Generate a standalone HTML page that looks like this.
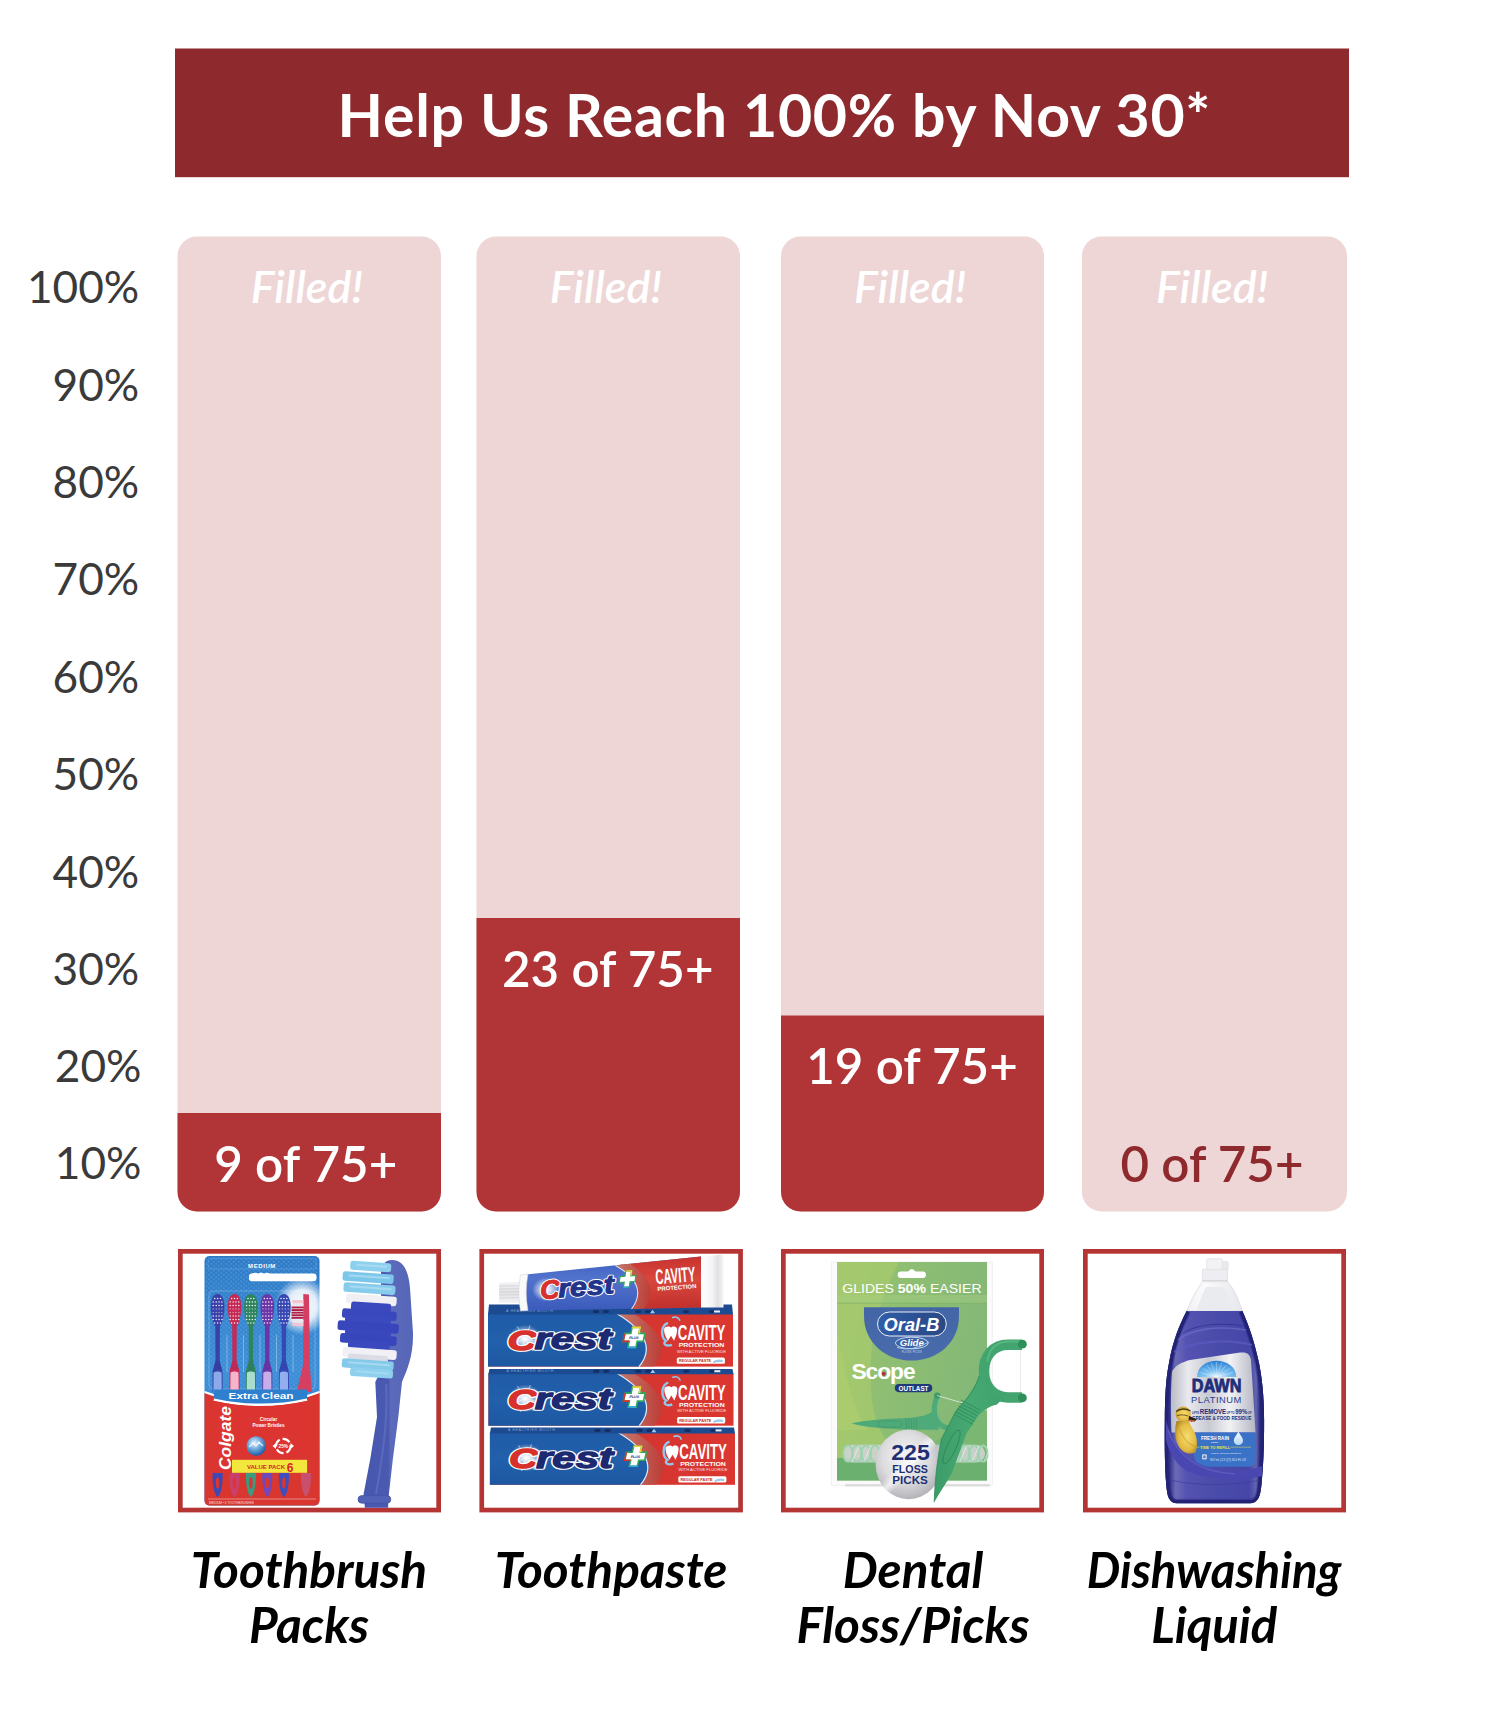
<!DOCTYPE html>
<html lang="en">
<head>
<meta charset="utf-8">
<title>Help Us Reach 100% by Nov 30*</title>
<style>
html,body{margin:0;padding:0;background:#fff;}
body{width:1492px;height:1736px;overflow:hidden;}
svg{display:block;font-family:"Lato","Liberation Sans",sans-serif;}
</style>
</head>
<body>
<svg width="1492" height="1736" viewBox="0 0 1492 1736">
<defs>
<clipPath id="c0"><rect x="182.7" y="1253.7" width="253.6" height="253.99999999999997"/></clipPath>
<clipPath id="c1"><rect x="484.09999999999997" y="1253.7" width="254.1" height="253.99999999999997"/></clipPath>
<clipPath id="c2"><rect x="785.7" y="1253.7" width="253.6" height="253.99999999999997"/></clipPath>
<clipPath id="c3"><rect x="1087.7" y="1253.7" width="253.6" height="253.99999999999997"/></clipPath>
<linearGradient id="pkBlue" x1="0" y1="0" x2="0" y2="1">
<stop offset="0" stop-color="#2C78C4"/><stop offset="0.45" stop-color="#3B8ED6"/><stop offset="1" stop-color="#2E7ACB"/></linearGradient>
<radialGradient id="glow1" cx="0.5" cy="0.5" r="0.5"><stop offset="0" stop-color="#fff" stop-opacity="1"/><stop offset="0.55" stop-color="#fff" stop-opacity="0.85"/><stop offset="1" stop-color="#fff" stop-opacity="0"/></radialGradient>
<radialGradient id="sph1" cx="0.4" cy="0.35" r="0.65"><stop offset="0" stop-color="#E8F4FF"/><stop offset="0.5" stop-color="#6FA8DC"/><stop offset="1" stop-color="#1F5FA8"/></radialGradient>
<linearGradient id="hdl1" x1="0" y1="0" x2="1" y2="0"><stop offset="0" stop-color="#4756AE"/><stop offset="0.5" stop-color="#4B5AB1"/><stop offset="0.55" stop-color="#5B6ABB"/><stop offset="1" stop-color="#5666B8"/></linearGradient>
<pattern id="hex1" width="5" height="4.4" patternUnits="userSpaceOnUse"><circle cx="1.25" cy="1.1" r="1.1" fill="#5A9FDF" fill-opacity="0.55"/><circle cx="3.75" cy="3.3" r="1.1" fill="#5A9FDF" fill-opacity="0.55"/></pattern>
<linearGradient id="cbBlue" x1="0" y1="0" x2="0" y2="1"><stop offset="0" stop-color="#1F5BA6"/><stop offset="0.5" stop-color="#2260AB"/><stop offset="1" stop-color="#1D58A2"/></linearGradient>
<linearGradient id="cbRed" x1="0" y1="0" x2="1" y2="0"><stop offset="0" stop-color="#C9342F"/><stop offset="1" stop-color="#DC3630"/></linearGradient>
<linearGradient id="cbBrown" x1="0" y1="0" x2="1" y2="0"><stop offset="0" stop-color="#C48A7C"/><stop offset="1" stop-color="#B5403A"/></linearGradient>
<radialGradient id="spk" cx="0.5" cy="0.5" r="0.5"><stop offset="0" stop-color="#fff"/><stop offset="0.35" stop-color="#fff" stop-opacity="0.75"/><stop offset="1" stop-color="#fff" stop-opacity="0"/></radialGradient>
<linearGradient id="tubeBlue" x1="0" y1="0" x2="0" y2="1"><stop offset="0" stop-color="#3A5DBE"/><stop offset="0.4" stop-color="#5273CC"/><stop offset="1" stop-color="#3B5BBC"/></linearGradient>
<linearGradient id="tubeRed" x1="0" y1="0" x2="0" y2="1"><stop offset="0" stop-color="#C8322E"/><stop offset="0.45" stop-color="#D8463E"/><stop offset="1" stop-color="#C0302C"/></linearGradient>
<linearGradient id="capG" x1="0" y1="0" x2="0" y2="1"><stop offset="0" stop-color="#F4F4F6"/><stop offset="0.5" stop-color="#E2E2E6"/><stop offset="1" stop-color="#F2F2F4"/></linearGradient>
<linearGradient id="crimpG" x1="0" y1="0" x2="1" y2="0"><stop offset="0" stop-color="#FFFFFF"/><stop offset="0.5" stop-color="#F4F4F6"/><stop offset="0.75" stop-color="#E0E0E4"/><stop offset="1" stop-color="#F6F6F8"/></linearGradient>
<linearGradient id="flG" x1="0" y1="0" x2="1" y2="0.3"><stop offset="0" stop-color="#9CC56F"/><stop offset="0.45" stop-color="#8EBE72"/><stop offset="1" stop-color="#84B877"/></linearGradient>
<linearGradient id="obBlue" x1="0" y1="0" x2="0" y2="1"><stop offset="0" stop-color="#4265A6"/><stop offset="1" stop-color="#4A6CAC"/></linearGradient>
<linearGradient id="obOval" x1="0" y1="0" x2="1" y2="0"><stop offset="0" stop-color="#2F5EA8"/><stop offset="0.6" stop-color="#2B4F92"/><stop offset="1" stop-color="#2A4A85"/></linearGradient>
<radialGradient id="silv" cx="0.45" cy="0.4" r="0.6"><stop offset="0" stop-color="#F6F6F7"/><stop offset="0.6" stop-color="#DCDCDF"/><stop offset="1" stop-color="#B4B4B9"/></radialGradient>
<linearGradient id="silvS" x1="0" y1="0" x2="1" y2="1"><stop offset="0" stop-color="#fff" stop-opacity="0"/><stop offset="0.42" stop-color="#fff" stop-opacity="0"/><stop offset="0.5" stop-color="#fff" stop-opacity="0.7"/><stop offset="0.58" stop-color="#fff" stop-opacity="0"/><stop offset="1" stop-color="#fff" stop-opacity="0"/></linearGradient>
<linearGradient id="pickG" x1="0" y1="0" x2="1" y2="0"><stop offset="0" stop-color="#3C9C69"/><stop offset="0.5" stop-color="#46A873"/><stop offset="1" stop-color="#3FA16B"/></linearGradient>
<linearGradient id="dwBody" x1="0" y1="0" x2="1" y2="0"><stop offset="0" stop-color="#1A1C5C"/><stop offset="0.05" stop-color="#34338C"/><stop offset="0.11" stop-color="#6C6AB6"/><stop offset="0.22" stop-color="#5552B2"/><stop offset="0.5" stop-color="#4A4CAA"/><stop offset="0.85" stop-color="#4646A8"/><stop offset="0.92" stop-color="#6464AE"/><stop offset="0.96" stop-color="#2A2C80"/><stop offset="1" stop-color="#1A1C5C"/></linearGradient>
<linearGradient id="dwClear" x1="0" y1="0" x2="1" y2="0"><stop offset="0" stop-color="#EEEFF3"/><stop offset="0.3" stop-color="#FBFBFC"/><stop offset="0.6" stop-color="#F3F3F5"/><stop offset="1" stop-color="#E6E7EC"/></linearGradient>
<linearGradient id="dwSilver" x1="0" y1="0" x2="1" y2="0"><stop offset="0" stop-color="#B9BBC6"/><stop offset="0.2" stop-color="#E9EAEE"/><stop offset="0.45" stop-color="#C8CAD2"/><stop offset="0.7" stop-color="#F2F2F5"/><stop offset="1" stop-color="#B4B6C2"/></linearGradient>
<radialGradient id="dwSun" cx="0.5" cy="1" r="1"><stop offset="0" stop-color="#E6F4FF"/><stop offset="0.35" stop-color="#7CC2F2"/><stop offset="1" stop-color="#2A7FD4"/></radialGradient>
<radialGradient id="duck" cx="0.55" cy="0.5" r="0.65"><stop offset="0" stop-color="#F6DC70"/><stop offset="0.6" stop-color="#E4BC42"/><stop offset="1" stop-color="#A57C22"/></radialGradient>
<linearGradient id="drop" x1="0" y1="0" x2="0" y2="1"><stop offset="0" stop-color="#F4FAFF"/><stop offset="1" stop-color="#B5D8F4"/></linearGradient>
<clipPath id="dwClip"><path d="M1186.6,1311 L1242.4,1311 C1249,1326 1254,1340 1259,1363 C1262,1378 1264,1395 1264.1,1420 C1264.2,1450 1263,1470 1261.5,1484 C1260.5,1496 1258,1503.3 1250,1503.3 L1177,1503.3 C1169,1503.3 1167,1496 1166.2,1484 C1165,1470 1164.5,1450 1164.8,1420 C1165,1395 1166,1378 1169,1363 C1173,1340 1179,1326 1186.6,1311 Z"/></clipPath>
</defs>
<rect x="175" y="48.5" width="1174" height="128.7" fill="#8E2A2D"/>
<text x="337.60" y="136.93" font-size="59" font-weight="700" fill="#fff" letter-spacing="0.75" textLength="873.6" lengthAdjust="spacingAndGlyphs">Help Us Reach 100% by Nov 30*</text>
<text x="139.30" y="303.40" font-size="44.2" fill="#3A3A3A" text-anchor="end" textLength="112.31" lengthAdjust="spacingAndGlyphs">100%</text>
<text x="139.30" y="400.76" font-size="44.2" fill="#3A3A3A" text-anchor="end" textLength="86.69" lengthAdjust="spacingAndGlyphs">90%</text>
<text x="139.30" y="498.12" font-size="44.2" fill="#3A3A3A" text-anchor="end" textLength="86.69" lengthAdjust="spacingAndGlyphs">80%</text>
<text x="139.30" y="595.48" font-size="44.2" fill="#3A3A3A" text-anchor="end" textLength="86.69" lengthAdjust="spacingAndGlyphs">70%</text>
<text x="139.30" y="692.84" font-size="44.2" fill="#3A3A3A" text-anchor="end" textLength="86.69" lengthAdjust="spacingAndGlyphs">60%</text>
<text x="139.30" y="790.20" font-size="44.2" fill="#3A3A3A" text-anchor="end" textLength="86.69" lengthAdjust="spacingAndGlyphs">50%</text>
<text x="139.30" y="887.56" font-size="44.2" fill="#3A3A3A" text-anchor="end" textLength="86.69" lengthAdjust="spacingAndGlyphs">40%</text>
<text x="139.30" y="984.92" font-size="44.2" fill="#3A3A3A" text-anchor="end" textLength="86.69" lengthAdjust="spacingAndGlyphs">30%</text>
<text x="141.50" y="1082.28" font-size="44.2" fill="#3A3A3A" text-anchor="end" textLength="86.69" lengthAdjust="spacingAndGlyphs">20%</text>
<text x="141.50" y="1179.14" font-size="44.2" fill="#3A3A3A" text-anchor="end" textLength="86.69" lengthAdjust="spacingAndGlyphs">10%</text>
<rect x="177.5" y="236.5" width="263.5" height="975.0" rx="19.5" fill="#EED6D7"/>
<path d="M177.5,1113 H441.0 V1192.0 A19.5,19.5 0 0 1 421.5,1211.5 H197.0 A19.5,19.5 0 0 1 177.5,1192.0 Z" fill="#B13436"/>
<rect x="476.5" y="236.5" width="263.5" height="975.0" rx="19.5" fill="#EED6D7"/>
<path d="M476.5,918 H740.0 V1192.0 A19.5,19.5 0 0 1 720.5,1211.5 H496.0 A19.5,19.5 0 0 1 476.5,1192.0 Z" fill="#B13436"/>
<rect x="781" y="236.5" width="263" height="975.0" rx="19.5" fill="#EED6D7"/>
<path d="M781,1015.5 H1044 V1192.0 A19.5,19.5 0 0 1 1024.5,1211.5 H800.5 A19.5,19.5 0 0 1 781,1192.0 Z" fill="#B13436"/>
<rect x="1082" y="236.5" width="265" height="975.0" rx="19.5" fill="#EED6D7"/>
<text x="306.95" y="302.84" font-size="44.8" font-weight="600" font-style="italic" fill="#fff" text-anchor="middle" textLength="112.16" lengthAdjust="spacingAndGlyphs">Filled!</text>
<text x="605.95" y="302.84" font-size="44.8" font-weight="600" font-style="italic" fill="#fff" text-anchor="middle" textLength="112.16" lengthAdjust="spacingAndGlyphs">Filled!</text>
<text x="910.20" y="302.84" font-size="44.8" font-weight="600" font-style="italic" fill="#fff" text-anchor="middle" textLength="112.16" lengthAdjust="spacingAndGlyphs">Filled!</text>
<text x="1212.20" y="302.84" font-size="44.8" font-weight="600" font-style="italic" fill="#fff" text-anchor="middle" textLength="112.16" lengthAdjust="spacingAndGlyphs">Filled!</text>
<text x="305.75" y="1182.10" font-size="49.3" font-weight="600" fill="#fff" text-anchor="middle" textLength="183.02" lengthAdjust="spacingAndGlyphs">9 of 75+</text>
<text x="607.75" y="986.90" font-size="49.3" font-weight="600" fill="#fff" text-anchor="middle" textLength="211.61" lengthAdjust="spacingAndGlyphs">23 of 75+</text>
<text x="912.00" y="1083.70" font-size="49.3" font-weight="600" fill="#fff" text-anchor="middle" textLength="211.61" lengthAdjust="spacingAndGlyphs">19 of 75+</text>
<text x="1212.00" y="1181.90" font-size="49.3" font-weight="600" fill="#8E2A2D" text-anchor="middle" textLength="183.02" lengthAdjust="spacingAndGlyphs">0 of 75+</text>
<text x="309.00" y="1588.06" font-size="49.5" font-weight="700" font-style="italic" fill="#000" text-anchor="middle" textLength="236.33" lengthAdjust="spacingAndGlyphs">Toothbrush</text>
<text x="309.00" y="1643.06" font-size="49.5" font-weight="700" font-style="italic" fill="#000" text-anchor="middle" textLength="120.17" lengthAdjust="spacingAndGlyphs">Packs</text>
<text x="611.00" y="1588.06" font-size="49.5" font-weight="700" font-style="italic" fill="#000" text-anchor="middle" textLength="232.75" lengthAdjust="spacingAndGlyphs">Toothpaste</text>
<text x="913.00" y="1588.06" font-size="49.5" font-weight="700" font-style="italic" fill="#000" text-anchor="middle" textLength="140.73" lengthAdjust="spacingAndGlyphs">Dental</text>
<text x="913.00" y="1643.06" font-size="49.5" font-weight="700" font-style="italic" fill="#000" text-anchor="middle" textLength="232.98" lengthAdjust="spacingAndGlyphs">Floss/Picks</text>
<text x="1214.10" y="1588.06" font-size="49.5" font-weight="700" font-style="italic" fill="#000" text-anchor="middle" textLength="254.6" lengthAdjust="spacingAndGlyphs">Dishwashing</text>
<text x="1214.30" y="1643.06" font-size="49.5" font-weight="700" font-style="italic" fill="#000" text-anchor="middle" textLength="126.0" lengthAdjust="spacingAndGlyphs">Liquid</text>
<rect x="180.35" y="1251.35" width="258.3" height="258.7" fill="#fff" stroke="#B43533" stroke-width="4.7"/>
<rect x="481.75" y="1251.35" width="258.8" height="258.7" fill="#fff" stroke="#B43533" stroke-width="4.7"/>
<rect x="783.35" y="1251.35" width="258.3" height="258.7" fill="#fff" stroke="#B43533" stroke-width="4.7"/>
<rect x="1085.35" y="1251.35" width="258.3" height="258.7" fill="#fff" stroke="#B43533" stroke-width="4.7"/>
<g clip-path="url(#c0)">
<rect x="204.5" y="1256" width="115" height="249.5" rx="5" fill="url(#pkBlue)"/>
<rect x="206" y="1257" width="112" height="134" rx="4" fill="url(#hex1)"/>
<rect x="208" y="1258.5" width="108" height="10.5" rx="3" fill="none" stroke="#8CC0EC" stroke-opacity="0.5" stroke-width="0.6"/>
<text x="262" y="1267.6" font-size="6" font-weight="700" fill="#fff" text-anchor="middle" letter-spacing="0.6" font-family="Liberation Sans, Arial, sans-serif">MEDIUM</text>
<rect x="249" y="1273.6" width="67.5" height="7.6" rx="3" fill="#fff"/>
<path d="M252,1274 q3,-2.5 6,0 q3,-3 6,0 q3,-2.5 6,0" fill="#fff"/>
<rect x="209" y="1291" width="106" height="98" rx="4" fill="none" stroke="#A9D2F2" stroke-opacity="0.55" stroke-width="0.7"/>
<ellipse cx="302" cy="1306" rx="27" ry="29" fill="url(#glow1)"/>
<path d="M217.6,1294 C222.79999999999998,1294 224.6,1301 224.4,1308 C224.1,1317 221.4,1327 217.6,1328.5 C213.79999999999998,1327 211.1,1317 210.79999999999998,1308 C210.6,1301 212.4,1294 217.6,1294 Z" fill="#3940A8"/>
<circle cx="214.7" cy="1298.5" r="0.75" fill="#fff" fill-opacity="0.95"/>
<circle cx="217.6" cy="1298.5" r="0.75" fill="#fff" fill-opacity="0.95"/>
<circle cx="220.5" cy="1298.5" r="0.75" fill="#fff" fill-opacity="0.95"/>
<circle cx="213.2" cy="1302" r="0.75" fill="#fff" fill-opacity="0.95"/>
<circle cx="216.2" cy="1302" r="0.75" fill="#fff" fill-opacity="0.95"/>
<circle cx="219.0" cy="1302" r="0.75" fill="#fff" fill-opacity="0.95"/>
<circle cx="221.9" cy="1302" r="0.75" fill="#fff" fill-opacity="0.95"/>
<circle cx="213.2" cy="1305.5" r="0.75" fill="#fff" fill-opacity="0.95"/>
<circle cx="216.2" cy="1305.5" r="0.75" fill="#fff" fill-opacity="0.95"/>
<circle cx="219.0" cy="1305.5" r="0.75" fill="#fff" fill-opacity="0.95"/>
<circle cx="221.9" cy="1305.5" r="0.75" fill="#fff" fill-opacity="0.95"/>
<circle cx="213.2" cy="1309" r="0.75" fill="#fff" fill-opacity="0.5"/>
<circle cx="216.2" cy="1309" r="0.75" fill="#fff" fill-opacity="0.5"/>
<circle cx="219.0" cy="1309" r="0.75" fill="#fff" fill-opacity="0.5"/>
<circle cx="221.9" cy="1309" r="0.75" fill="#fff" fill-opacity="0.5"/>
<circle cx="213.2" cy="1312.5" r="0.75" fill="#fff" fill-opacity="0.5"/>
<circle cx="216.2" cy="1312.5" r="0.75" fill="#fff" fill-opacity="0.5"/>
<circle cx="219.0" cy="1312.5" r="0.75" fill="#fff" fill-opacity="0.5"/>
<circle cx="221.9" cy="1312.5" r="0.75" fill="#fff" fill-opacity="0.5"/>
<circle cx="213.2" cy="1316" r="0.75" fill="#fff" fill-opacity="0.95"/>
<circle cx="216.2" cy="1316" r="0.75" fill="#fff" fill-opacity="0.95"/>
<circle cx="219.0" cy="1316" r="0.75" fill="#fff" fill-opacity="0.95"/>
<circle cx="221.9" cy="1316" r="0.75" fill="#fff" fill-opacity="0.95"/>
<circle cx="213.2" cy="1319.5" r="0.75" fill="#fff" fill-opacity="0.95"/>
<circle cx="216.2" cy="1319.5" r="0.75" fill="#fff" fill-opacity="0.95"/>
<circle cx="219.0" cy="1319.5" r="0.75" fill="#fff" fill-opacity="0.95"/>
<circle cx="221.9" cy="1319.5" r="0.75" fill="#fff" fill-opacity="0.95"/>
<circle cx="214.7" cy="1323" r="0.75" fill="#fff" fill-opacity="0.95"/>
<circle cx="217.6" cy="1323" r="0.75" fill="#fff" fill-opacity="0.95"/>
<circle cx="220.5" cy="1323" r="0.75" fill="#fff" fill-opacity="0.95"/>
<path d="M215.29999999999998,1327 L215.5,1360 C215.29999999999998,1364 212.6,1368 212.6,1374 L212.6,1392 L222.6,1392 L222.6,1374 C222.6,1368 219.9,1364 219.7,1360 L219.9,1327 Z" fill="#3940A8"/>
<path d="M213.6,1372.5 C215.6,1371 219.6,1371 221.6,1372.5 L221.79999999999998,1392 L213.4,1392 Z" fill="#8EA9EA"/>
<line x1="214.1" y1="1362" x2="221.1" y2="1362" stroke="#000" stroke-opacity="0.12" stroke-width="0.6"/>
<line x1="214.1" y1="1365" x2="221.1" y2="1365" stroke="#000" stroke-opacity="0.12" stroke-width="0.6"/>
<line x1="214.1" y1="1368" x2="221.1" y2="1368" stroke="#000" stroke-opacity="0.12" stroke-width="0.6"/>
<path d="M234.5,1294 C239.7,1294 241.5,1301 241.3,1308 C241.0,1317 238.3,1327 234.5,1328.5 C230.7,1327 228.0,1317 227.7,1308 C227.5,1301 229.3,1294 234.5,1294 Z" fill="#C42A55"/>
<circle cx="231.6" cy="1298.5" r="0.75" fill="#fff" fill-opacity="0.95"/>
<circle cx="234.5" cy="1298.5" r="0.75" fill="#fff" fill-opacity="0.95"/>
<circle cx="237.4" cy="1298.5" r="0.75" fill="#fff" fill-opacity="0.95"/>
<circle cx="230.2" cy="1302" r="0.75" fill="#fff" fill-opacity="0.95"/>
<circle cx="233.1" cy="1302" r="0.75" fill="#fff" fill-opacity="0.95"/>
<circle cx="235.9" cy="1302" r="0.75" fill="#fff" fill-opacity="0.95"/>
<circle cx="238.8" cy="1302" r="0.75" fill="#fff" fill-opacity="0.95"/>
<circle cx="230.2" cy="1305.5" r="0.75" fill="#fff" fill-opacity="0.95"/>
<circle cx="233.1" cy="1305.5" r="0.75" fill="#fff" fill-opacity="0.95"/>
<circle cx="235.9" cy="1305.5" r="0.75" fill="#fff" fill-opacity="0.95"/>
<circle cx="238.8" cy="1305.5" r="0.75" fill="#fff" fill-opacity="0.95"/>
<circle cx="230.2" cy="1309" r="0.75" fill="#fff" fill-opacity="0.5"/>
<circle cx="233.1" cy="1309" r="0.75" fill="#fff" fill-opacity="0.5"/>
<circle cx="235.9" cy="1309" r="0.75" fill="#fff" fill-opacity="0.5"/>
<circle cx="238.8" cy="1309" r="0.75" fill="#fff" fill-opacity="0.5"/>
<circle cx="230.2" cy="1312.5" r="0.75" fill="#fff" fill-opacity="0.5"/>
<circle cx="233.1" cy="1312.5" r="0.75" fill="#fff" fill-opacity="0.5"/>
<circle cx="235.9" cy="1312.5" r="0.75" fill="#fff" fill-opacity="0.5"/>
<circle cx="238.8" cy="1312.5" r="0.75" fill="#fff" fill-opacity="0.5"/>
<circle cx="230.2" cy="1316" r="0.75" fill="#fff" fill-opacity="0.95"/>
<circle cx="233.1" cy="1316" r="0.75" fill="#fff" fill-opacity="0.95"/>
<circle cx="235.9" cy="1316" r="0.75" fill="#fff" fill-opacity="0.95"/>
<circle cx="238.8" cy="1316" r="0.75" fill="#fff" fill-opacity="0.95"/>
<circle cx="230.2" cy="1319.5" r="0.75" fill="#fff" fill-opacity="0.95"/>
<circle cx="233.1" cy="1319.5" r="0.75" fill="#fff" fill-opacity="0.95"/>
<circle cx="235.9" cy="1319.5" r="0.75" fill="#fff" fill-opacity="0.95"/>
<circle cx="238.8" cy="1319.5" r="0.75" fill="#fff" fill-opacity="0.95"/>
<circle cx="231.6" cy="1323" r="0.75" fill="#fff" fill-opacity="0.95"/>
<circle cx="234.5" cy="1323" r="0.75" fill="#fff" fill-opacity="0.95"/>
<circle cx="237.4" cy="1323" r="0.75" fill="#fff" fill-opacity="0.95"/>
<path d="M232.2,1327 L232.4,1360 C232.2,1364 229.5,1368 229.5,1374 L229.5,1392 L239.5,1392 L239.5,1374 C239.5,1368 236.8,1364 236.6,1360 L236.8,1327 Z" fill="#C42A55"/>
<path d="M230.5,1372.5 C232.5,1371 236.5,1371 238.5,1372.5 L238.7,1392 L230.3,1392 Z" fill="#F2B5CB"/>
<line x1="231.0" y1="1362" x2="238.0" y2="1362" stroke="#000" stroke-opacity="0.12" stroke-width="0.6"/>
<line x1="231.0" y1="1365" x2="238.0" y2="1365" stroke="#000" stroke-opacity="0.12" stroke-width="0.6"/>
<line x1="231.0" y1="1368" x2="238.0" y2="1368" stroke="#000" stroke-opacity="0.12" stroke-width="0.6"/>
<path d="M250.9,1294 C256.1,1294 257.9,1301 257.7,1308 C257.4,1317 254.70000000000002,1327 250.9,1328.5 C247.1,1327 244.4,1317 244.1,1308 C243.9,1301 245.70000000000002,1294 250.9,1294 Z" fill="#2F8460"/>
<circle cx="248.0" cy="1298.5" r="0.75" fill="#fff" fill-opacity="0.95"/>
<circle cx="250.9" cy="1298.5" r="0.75" fill="#fff" fill-opacity="0.95"/>
<circle cx="253.8" cy="1298.5" r="0.75" fill="#fff" fill-opacity="0.95"/>
<circle cx="246.6" cy="1302" r="0.75" fill="#fff" fill-opacity="0.95"/>
<circle cx="249.5" cy="1302" r="0.75" fill="#fff" fill-opacity="0.95"/>
<circle cx="252.3" cy="1302" r="0.75" fill="#fff" fill-opacity="0.95"/>
<circle cx="255.2" cy="1302" r="0.75" fill="#fff" fill-opacity="0.95"/>
<circle cx="246.6" cy="1305.5" r="0.75" fill="#fff" fill-opacity="0.95"/>
<circle cx="249.5" cy="1305.5" r="0.75" fill="#fff" fill-opacity="0.95"/>
<circle cx="252.3" cy="1305.5" r="0.75" fill="#fff" fill-opacity="0.95"/>
<circle cx="255.2" cy="1305.5" r="0.75" fill="#fff" fill-opacity="0.95"/>
<circle cx="246.6" cy="1309" r="0.75" fill="#fff" fill-opacity="0.5"/>
<circle cx="249.5" cy="1309" r="0.75" fill="#fff" fill-opacity="0.5"/>
<circle cx="252.3" cy="1309" r="0.75" fill="#fff" fill-opacity="0.5"/>
<circle cx="255.2" cy="1309" r="0.75" fill="#fff" fill-opacity="0.5"/>
<circle cx="246.6" cy="1312.5" r="0.75" fill="#fff" fill-opacity="0.5"/>
<circle cx="249.5" cy="1312.5" r="0.75" fill="#fff" fill-opacity="0.5"/>
<circle cx="252.3" cy="1312.5" r="0.75" fill="#fff" fill-opacity="0.5"/>
<circle cx="255.2" cy="1312.5" r="0.75" fill="#fff" fill-opacity="0.5"/>
<circle cx="246.6" cy="1316" r="0.75" fill="#fff" fill-opacity="0.95"/>
<circle cx="249.5" cy="1316" r="0.75" fill="#fff" fill-opacity="0.95"/>
<circle cx="252.3" cy="1316" r="0.75" fill="#fff" fill-opacity="0.95"/>
<circle cx="255.2" cy="1316" r="0.75" fill="#fff" fill-opacity="0.95"/>
<circle cx="246.6" cy="1319.5" r="0.75" fill="#fff" fill-opacity="0.95"/>
<circle cx="249.5" cy="1319.5" r="0.75" fill="#fff" fill-opacity="0.95"/>
<circle cx="252.3" cy="1319.5" r="0.75" fill="#fff" fill-opacity="0.95"/>
<circle cx="255.2" cy="1319.5" r="0.75" fill="#fff" fill-opacity="0.95"/>
<circle cx="248.0" cy="1323" r="0.75" fill="#fff" fill-opacity="0.95"/>
<circle cx="250.9" cy="1323" r="0.75" fill="#fff" fill-opacity="0.95"/>
<circle cx="253.8" cy="1323" r="0.75" fill="#fff" fill-opacity="0.95"/>
<path d="M248.6,1327 L248.8,1360 C248.6,1364 245.9,1368 245.9,1374 L245.9,1392 L255.9,1392 L255.9,1374 C255.9,1368 253.20000000000002,1364 253.0,1360 L253.20000000000002,1327 Z" fill="#2F8460"/>
<path d="M246.9,1372.5 C248.9,1371 252.9,1371 254.9,1372.5 L255.1,1392 L246.70000000000002,1392 Z" fill="#A9DDCE"/>
<line x1="247.4" y1="1362" x2="254.4" y2="1362" stroke="#000" stroke-opacity="0.12" stroke-width="0.6"/>
<line x1="247.4" y1="1365" x2="254.4" y2="1365" stroke="#000" stroke-opacity="0.12" stroke-width="0.6"/>
<line x1="247.4" y1="1368" x2="254.4" y2="1368" stroke="#000" stroke-opacity="0.12" stroke-width="0.6"/>
<path d="M267.3,1294 C272.5,1294 274.3,1301 274.1,1308 C273.8,1317 271.1,1327 267.3,1328.5 C263.5,1327 260.8,1317 260.5,1308 C260.3,1301 262.1,1294 267.3,1294 Z" fill="#6B35A8"/>
<circle cx="264.4" cy="1298.5" r="0.75" fill="#fff" fill-opacity="0.95"/>
<circle cx="267.3" cy="1298.5" r="0.75" fill="#fff" fill-opacity="0.95"/>
<circle cx="270.2" cy="1298.5" r="0.75" fill="#fff" fill-opacity="0.95"/>
<circle cx="262.9" cy="1302" r="0.75" fill="#fff" fill-opacity="0.95"/>
<circle cx="265.9" cy="1302" r="0.75" fill="#fff" fill-opacity="0.95"/>
<circle cx="268.8" cy="1302" r="0.75" fill="#fff" fill-opacity="0.95"/>
<circle cx="271.7" cy="1302" r="0.75" fill="#fff" fill-opacity="0.95"/>
<circle cx="262.9" cy="1305.5" r="0.75" fill="#fff" fill-opacity="0.95"/>
<circle cx="265.9" cy="1305.5" r="0.75" fill="#fff" fill-opacity="0.95"/>
<circle cx="268.8" cy="1305.5" r="0.75" fill="#fff" fill-opacity="0.95"/>
<circle cx="271.7" cy="1305.5" r="0.75" fill="#fff" fill-opacity="0.95"/>
<circle cx="262.9" cy="1309" r="0.75" fill="#fff" fill-opacity="0.5"/>
<circle cx="265.9" cy="1309" r="0.75" fill="#fff" fill-opacity="0.5"/>
<circle cx="268.8" cy="1309" r="0.75" fill="#fff" fill-opacity="0.5"/>
<circle cx="271.7" cy="1309" r="0.75" fill="#fff" fill-opacity="0.5"/>
<circle cx="262.9" cy="1312.5" r="0.75" fill="#fff" fill-opacity="0.5"/>
<circle cx="265.9" cy="1312.5" r="0.75" fill="#fff" fill-opacity="0.5"/>
<circle cx="268.8" cy="1312.5" r="0.75" fill="#fff" fill-opacity="0.5"/>
<circle cx="271.7" cy="1312.5" r="0.75" fill="#fff" fill-opacity="0.5"/>
<circle cx="262.9" cy="1316" r="0.75" fill="#fff" fill-opacity="0.95"/>
<circle cx="265.9" cy="1316" r="0.75" fill="#fff" fill-opacity="0.95"/>
<circle cx="268.8" cy="1316" r="0.75" fill="#fff" fill-opacity="0.95"/>
<circle cx="271.7" cy="1316" r="0.75" fill="#fff" fill-opacity="0.95"/>
<circle cx="262.9" cy="1319.5" r="0.75" fill="#fff" fill-opacity="0.95"/>
<circle cx="265.9" cy="1319.5" r="0.75" fill="#fff" fill-opacity="0.95"/>
<circle cx="268.8" cy="1319.5" r="0.75" fill="#fff" fill-opacity="0.95"/>
<circle cx="271.7" cy="1319.5" r="0.75" fill="#fff" fill-opacity="0.95"/>
<circle cx="264.4" cy="1323" r="0.75" fill="#fff" fill-opacity="0.95"/>
<circle cx="267.3" cy="1323" r="0.75" fill="#fff" fill-opacity="0.95"/>
<circle cx="270.2" cy="1323" r="0.75" fill="#fff" fill-opacity="0.95"/>
<path d="M265.0,1327 L265.2,1360 C265.0,1364 262.3,1368 262.3,1374 L262.3,1392 L272.3,1392 L272.3,1374 C272.3,1368 269.6,1364 269.40000000000003,1360 L269.6,1327 Z" fill="#6B35A8"/>
<path d="M263.3,1372.5 C265.3,1371 269.3,1371 271.3,1372.5 L271.5,1392 L263.1,1392 Z" fill="#C9ADE8"/>
<line x1="263.8" y1="1362" x2="270.8" y2="1362" stroke="#000" stroke-opacity="0.12" stroke-width="0.6"/>
<line x1="263.8" y1="1365" x2="270.8" y2="1365" stroke="#000" stroke-opacity="0.12" stroke-width="0.6"/>
<line x1="263.8" y1="1368" x2="270.8" y2="1368" stroke="#000" stroke-opacity="0.12" stroke-width="0.6"/>
<path d="M283.9,1294 C289.09999999999997,1294 290.9,1301 290.7,1308 C290.4,1317 287.7,1327 283.9,1328.5 C280.09999999999997,1327 277.4,1317 277.09999999999997,1308 C276.9,1301 278.7,1294 283.9,1294 Z" fill="#3747B4"/>
<circle cx="281.0" cy="1298.5" r="0.75" fill="#fff" fill-opacity="0.95"/>
<circle cx="283.9" cy="1298.5" r="0.75" fill="#fff" fill-opacity="0.95"/>
<circle cx="286.8" cy="1298.5" r="0.75" fill="#fff" fill-opacity="0.95"/>
<circle cx="279.5" cy="1302" r="0.75" fill="#fff" fill-opacity="0.95"/>
<circle cx="282.4" cy="1302" r="0.75" fill="#fff" fill-opacity="0.95"/>
<circle cx="285.3" cy="1302" r="0.75" fill="#fff" fill-opacity="0.95"/>
<circle cx="288.2" cy="1302" r="0.75" fill="#fff" fill-opacity="0.95"/>
<circle cx="279.5" cy="1305.5" r="0.75" fill="#fff" fill-opacity="0.95"/>
<circle cx="282.4" cy="1305.5" r="0.75" fill="#fff" fill-opacity="0.95"/>
<circle cx="285.3" cy="1305.5" r="0.75" fill="#fff" fill-opacity="0.95"/>
<circle cx="288.2" cy="1305.5" r="0.75" fill="#fff" fill-opacity="0.95"/>
<circle cx="279.5" cy="1309" r="0.75" fill="#fff" fill-opacity="0.5"/>
<circle cx="282.4" cy="1309" r="0.75" fill="#fff" fill-opacity="0.5"/>
<circle cx="285.3" cy="1309" r="0.75" fill="#fff" fill-opacity="0.5"/>
<circle cx="288.2" cy="1309" r="0.75" fill="#fff" fill-opacity="0.5"/>
<circle cx="279.5" cy="1312.5" r="0.75" fill="#fff" fill-opacity="0.5"/>
<circle cx="282.4" cy="1312.5" r="0.75" fill="#fff" fill-opacity="0.5"/>
<circle cx="285.3" cy="1312.5" r="0.75" fill="#fff" fill-opacity="0.5"/>
<circle cx="288.2" cy="1312.5" r="0.75" fill="#fff" fill-opacity="0.5"/>
<circle cx="279.5" cy="1316" r="0.75" fill="#fff" fill-opacity="0.95"/>
<circle cx="282.4" cy="1316" r="0.75" fill="#fff" fill-opacity="0.95"/>
<circle cx="285.3" cy="1316" r="0.75" fill="#fff" fill-opacity="0.95"/>
<circle cx="288.2" cy="1316" r="0.75" fill="#fff" fill-opacity="0.95"/>
<circle cx="279.5" cy="1319.5" r="0.75" fill="#fff" fill-opacity="0.95"/>
<circle cx="282.4" cy="1319.5" r="0.75" fill="#fff" fill-opacity="0.95"/>
<circle cx="285.3" cy="1319.5" r="0.75" fill="#fff" fill-opacity="0.95"/>
<circle cx="288.2" cy="1319.5" r="0.75" fill="#fff" fill-opacity="0.95"/>
<circle cx="281.0" cy="1323" r="0.75" fill="#fff" fill-opacity="0.95"/>
<circle cx="283.9" cy="1323" r="0.75" fill="#fff" fill-opacity="0.95"/>
<circle cx="286.8" cy="1323" r="0.75" fill="#fff" fill-opacity="0.95"/>
<path d="M281.59999999999997,1327 L281.79999999999995,1360 C281.59999999999997,1364 278.9,1368 278.9,1374 L278.9,1392 L288.9,1392 L288.9,1374 C288.9,1368 286.2,1364 286.0,1360 L286.2,1327 Z" fill="#3747B4"/>
<path d="M279.9,1372.5 C281.9,1371 285.9,1371 287.9,1372.5 L288.09999999999997,1392 L279.7,1392 Z" fill="#92AEEE"/>
<line x1="280.4" y1="1362" x2="287.4" y2="1362" stroke="#000" stroke-opacity="0.12" stroke-width="0.6"/>
<line x1="280.4" y1="1365" x2="287.4" y2="1365" stroke="#000" stroke-opacity="0.12" stroke-width="0.6"/>
<line x1="280.4" y1="1368" x2="287.4" y2="1368" stroke="#000" stroke-opacity="0.12" stroke-width="0.6"/>
<line x1="227" y1="1335" x2="227" y2="1372" stroke="#fff" stroke-opacity="0.55" stroke-width="0.6"/>
<line x1="243.5" y1="1335" x2="243.5" y2="1372" stroke="#fff" stroke-opacity="0.55" stroke-width="0.6"/>
<line x1="260" y1="1335" x2="260" y2="1372" stroke="#fff" stroke-opacity="0.55" stroke-width="0.6"/>
<line x1="276.5" y1="1335" x2="276.5" y2="1372" stroke="#fff" stroke-opacity="0.55" stroke-width="0.6"/>
<line x1="293" y1="1335" x2="293" y2="1372" stroke="#fff" stroke-opacity="0.55" stroke-width="0.6"/>
<path d="M303.3,1294 L309,1294.5 L309.8,1362 C310,1372 311,1380 312,1392 L297,1392 C299,1380 302.5,1372 303.2,1362 Z" fill="#D63F61"/>
<rect x="292.5" y="1300" width="11" height="3.5" fill="#F4C6D4"/>
<rect x="292" y="1304" width="11.5" height="2" fill="#E8E8EE"/>
<rect x="291.5" y="1306.5" width="12" height="1.9" fill="#B01E45"/>
<rect x="291.5" y="1309.1" width="12" height="1.9" fill="#B01E45"/>
<rect x="291.5" y="1311.7" width="12" height="1.9" fill="#B01E45"/>
<rect x="291.5" y="1314.3" width="12" height="1.9" fill="#B01E45"/>
<rect x="291.5" y="1316.9" width="12" height="1.9" fill="#B01E45"/>
<rect x="292" y="1320" width="11.5" height="2.4" fill="#E8E8EE"/>
<rect x="292.5" y="1323" width="11" height="3" fill="#F4C6D4"/>
<path d="M204.5,1392 Q262,1414 319.5,1392 L319.5,1500 Q319.5,1505.5 314,1505.5 L210,1505.5 Q204.5,1505.5 204.5,1500 Z" fill="#D8362F"/>
<path d="M204.5,1392 Q262,1414 319.5,1392" fill="none" stroke="#fff" stroke-width="2.2"/>
<path d="M213.8,1389.4 H307.1 V1399 Q260.5,1409.5 213.8,1399 Z" fill="#2F7FCF"/>
<path d="M213.8,1399.6 Q260.5,1410 307.1,1399.6" fill="none" stroke="#fff" stroke-width="2.4"/>
<text x="261" y="1398.6" font-size="9.6" font-weight="700" fill="#fff" text-anchor="middle" textLength="65" lengthAdjust="spacingAndGlyphs" font-family="Liberation Sans, Arial, sans-serif">Extra Clean</text>
<path d="M213.8,1401 Q260.5,1411.5 307.1,1401 V1472.5 H213.8 Z" fill="#DB3431"/>
<text transform="translate(230.6,1470) rotate(-90)" font-size="16.5" font-weight="700" font-style="italic" fill="#fff" textLength="64" lengthAdjust="spacingAndGlyphs" font-family="Liberation Sans, Arial, sans-serif">Colgate</text>
<text x="268.5" y="1420.5" font-size="4.6" font-weight="700" fill="#fff" text-anchor="middle" font-family="Liberation Sans, Arial, sans-serif">Circular</text>
<text x="268.5" y="1427.2" font-size="4.6" font-weight="700" fill="#fff" text-anchor="middle" font-family="Liberation Sans, Arial, sans-serif">Power Bristles</text>
<circle cx="256.3" cy="1446" r="9.8" fill="url(#sph1)"/>
<path d="M249,1447 l4,-4 l3,3 l3,-4 l4,4" fill="none" stroke="#fff" stroke-width="1.3" stroke-opacity="0.8"/>
<circle cx="283.3" cy="1446" r="7.2" fill="none" stroke="#fff" stroke-width="2.2" stroke-dasharray="8 3"/>
<path d="M272.5,1446 l3.5,-3 l0,6 Z M294,1446 l-3.5,-3 l0,6 Z" fill="#fff"/>
<text x="283.3" y="1447.8" font-size="4.8" font-weight="700" fill="#fff" text-anchor="middle" font-family="Liberation Sans, Arial, sans-serif">25%</text>
<rect x="232" y="1459.8" width="75.1" height="13" fill="#F3E63C"/>
<text x="266" y="1469.3" font-size="5.6" font-weight="700" fill="#D8262A" text-anchor="middle" textLength="38" lengthAdjust="spacingAndGlyphs" font-family="Liberation Sans, Arial, sans-serif">VALUE PACK</text>
<text x="290" y="1472.3" font-size="12" font-weight="700" fill="#D8262A" text-anchor="middle" font-family="Liberation Sans, Arial, sans-serif">6</text>
<path d="M212.6,1473 L222.6,1473 C223.1,1485 220.6,1495 217.6,1497 C214.6,1495 212.1,1485 212.6,1473 Z" fill="#3B49B8"/>
<ellipse cx="217.6" cy="1483" rx="1.8" ry="6" fill="#D8362F"/>
<path d="M229.5,1473 L239.5,1473 C240.0,1485 237.5,1495 234.5,1497 C231.5,1495 229.0,1485 229.5,1473 Z" fill="#C9406E"/>
<ellipse cx="234.5" cy="1483" rx="1.8" ry="6" fill="#D8362F"/>
<path d="M245.9,1473 L255.9,1473 C256.4,1485 253.9,1495 250.9,1497 C247.9,1495 245.4,1485 245.9,1473 Z" fill="#3A9B7E"/>
<ellipse cx="250.9" cy="1483" rx="1.8" ry="6" fill="#D8362F"/>
<path d="M262.3,1473 L272.3,1473 C272.8,1485 270.3,1495 267.3,1497 C264.3,1495 261.8,1485 262.3,1473 Z" fill="#6F49BC"/>
<ellipse cx="267.3" cy="1483" rx="1.8" ry="6" fill="#D8362F"/>
<path d="M278.9,1473 L288.9,1473 C289.4,1485 286.9,1495 283.9,1497 C280.9,1495 278.4,1485 278.9,1473 Z" fill="#3D4FC0"/>
<ellipse cx="283.9" cy="1483" rx="1.8" ry="6" fill="#D8362F"/>
<path d="M301,1473 L311,1473 C311.5,1485 309,1495 306,1497 C303,1495 300.5,1485 301,1473 Z" fill="#C8506E"/>
<path d="M208,1499 H316" stroke="#fff" stroke-opacity="0.7" stroke-width="0.6"/>
<text x="209" y="1503.5" font-size="3.2" fill="#fff" fill-opacity="0.85" font-family="Liberation Sans, Arial, sans-serif">MEDIUM • 6 TOOTHBRUSHES</text>
<path d="M392,1260 C403,1260 408.5,1270 410,1288 L413,1333 C413.5,1356 407,1370 402,1382 L398.3,1417 L392.9,1458.8 L388.8,1495 L388,1509 L365,1509 L363.6,1494 L370.3,1458.8 L377,1417 L375.3,1382 C377,1378 380,1374 381,1370 L381,1272 C381.5,1264 386,1260 392,1260 Z" fill="url(#hdl1)"/>
<path d="M386,1384 C388,1410 384,1450 376,1494" fill="none" stroke="#6574C2" stroke-width="2" stroke-opacity="0.6"/>
<rect x="358" y="1495.6" width="32.8" height="7.6" rx="3.8" fill="#5161B5" stroke="#44529F" stroke-width="0.7"/>
<g transform="rotate(4 370.7 1266.5)"><rect x="350.2" y="1261.9" width="41.0" height="9.2" rx="2.6" fill="#8DD0EE"/></g>
<g transform="rotate(4 368.1 1277.6)"><rect x="342.6" y="1272.8" width="51.1" height="9.6" rx="2.6" fill="#7CC6EA"/></g>
<g transform="rotate(4 369.4 1288.6)"><rect x="343.5" y="1283.8" width="51.9" height="9.6" rx="2.6" fill="#88CCEC"/></g>
<g transform="rotate(4 371.4 1299.9)"><rect x="346" y="1295.2" width="50.7" height="9.4" rx="2.6" fill="#EFEFF4"/></g>
<g transform="rotate(4 371.0 1307.2)"><rect x="351" y="1302.6" width="40.0" height="9.2" rx="2.6" fill="#3B49BE"/></g>
<g transform="rotate(4 369.4 1314.7)"><rect x="342" y="1310.0" width="54.7" height="9.4" rx="2.6" fill="#3A48BD"/></g>
<g transform="rotate(4 368.0 1320.5)"><rect x="345" y="1316.2" width="46.0" height="8.6" rx="2.6" fill="#3C4AC0"/></g>
<g transform="rotate(4 368.2 1327)"><rect x="337.6" y="1322.1" width="61.2" height="9.8" rx="2.6" fill="#3846BC"/></g>
<g transform="rotate(4 368.0 1333)"><rect x="345" y="1328.7" width="46.0" height="8.6" rx="2.6" fill="#3A48BE"/></g>
<g transform="rotate(4 368.4 1339.5)"><rect x="340" y="1334.7" width="56.7" height="9.6" rx="2.6" fill="#3846BC"/></g>
<g transform="rotate(4 368.8 1345)"><rect x="348" y="1340.8" width="41.5" height="8.4" rx="2.6" fill="#3B49BE"/></g>
<g transform="rotate(4 369.6 1353.4)"><rect x="342.6" y="1348.5" width="54.1" height="9.8" rx="2.6" fill="#F0F0F5"/></g>
<g transform="rotate(4 367.9 1359)"><rect x="347.7" y="1354.7" width="40.3" height="8.6" rx="2.6" fill="#DCDCE6"/></g>
<g transform="rotate(4 367.8 1364.5)"><rect x="341.8" y="1359.8" width="51.9" height="9.4" rx="2.6" fill="#86CAEA"/></g>
<g transform="rotate(4 371.5 1373)"><rect x="350" y="1368.7" width="43.0" height="8.6" rx="2.6" fill="#8FD0EE"/></g>
<g transform="rotate(4 370.7 1266.5)"><rect x="356.2" y="1264.7" width="31.0" height="2.0" fill="#B9E3F5" fill-opacity="0.6"/></g>
<g transform="rotate(4 368.1 1277.6)"><rect x="348.6" y="1275.6" width="41.1" height="2.2" fill="#B9E3F5" fill-opacity="0.6"/></g>
<g transform="rotate(4 369.4 1288.6)"><rect x="349.5" y="1286.6" width="41.9" height="2.2" fill="#B9E3F5" fill-opacity="0.6"/></g>
<g transform="rotate(4 367.8 1364.5)"><rect x="347.8" y="1362.6" width="41.9" height="2.1" fill="#B9E3F5" fill-opacity="0.6"/></g>
<g transform="rotate(4 371.5 1373)"><rect x="356" y="1371.5" width="33.0" height="1.7" fill="#B9E3F5" fill-opacity="0.6"/></g>
</g>
<g clip-path="url(#c1)">
<rect x="489.9" y="1432.7" width="245.10000000000002" height="52.09999999999991" fill="url(#cbRed)"/>
<path d="M489.9,1432.7 H619.5 Q663.5,1458.75 641.5,1484.8 H489.9 Z" fill="url(#cbBlue)"/>
<path d="M619.5,1432.7 Q663.5,1458.75 641.5,1484.8 L655.5,1484.8 Q677.5,1458.75 635.5,1432.7 Z" fill="url(#cbBrown)" fill-opacity="0.8"/>
<path d="M618.5,1432.7 Q662.5,1458.75 640.5,1484.8" fill="none" stroke="#fff" stroke-width="1.3" stroke-opacity="0.85"/>
<path d="M490.9,1427.6 H734 L735,1433.4 H489.9 Z" fill="#1D4B92"/>
<text x="507.9" y="1431.1000000000001" font-size="3.6" fill="#9FB8E0" fill-opacity="0.8" letter-spacing="0.6" font-family="Liberation Sans, Arial, sans-serif">A HEALTHIER MOUTH</text>
<ellipse cx="597.5" cy="1430.4" rx="3.2" ry="1.6" fill="#132F66"/>
<ellipse cx="607.5" cy="1430.4" rx="3.2" ry="1.6" fill="#132F66"/>
<ellipse cx="639.5" cy="1430.4" rx="3.2" ry="1.6" fill="#132F66"/>
<ellipse cx="649.5" cy="1430.4" rx="3.2" ry="1.6" fill="#132F66"/>
<ellipse cx="687.5" cy="1430.4" rx="3.2" ry="1.6" fill="#132F66"/>
<ellipse cx="713.5" cy="1430.4" rx="3.2" ry="1.6" fill="#132F66"/>
<path d="M651.5,1432.2 l2.5,-3.5 l2.5,3.5 Z" fill="#9CC8F0"/>
<rect x="715.5" y="1429.4" width="6" height="2" fill="#E8EEF8"/>
<g transform="translate(526.5,1457.7)"><ellipse rx="17" ry="14" fill="url(#spk)"/><path d="M0,0 L16.2,4.1" stroke="#fff" stroke-width="0.8" stroke-opacity="0.7"/><path d="M0,0 L7.9,12.4" stroke="#fff" stroke-width="0.8" stroke-opacity="0.7"/><path d="M0,0 L-5.0,13.4" stroke="#fff" stroke-width="0.8" stroke-opacity="0.7"/><path d="M0,0 L-15.0,6.5" stroke="#fff" stroke-width="0.8" stroke-opacity="0.7"/><path d="M0,0 L-16.2,-4.1" stroke="#fff" stroke-width="0.8" stroke-opacity="0.7"/><path d="M0,0 L-7.9,-12.4" stroke="#fff" stroke-width="0.8" stroke-opacity="0.7"/><path d="M0,0 L5.0,-13.4" stroke="#fff" stroke-width="0.8" stroke-opacity="0.7"/><path d="M0,0 L15.0,-6.5" stroke="#fff" stroke-width="0.8" stroke-opacity="0.7"/></g>
<text x="509.0" y="1468.4" font-size="28.5" font-weight="700" font-style="italic" fill="#D8302C" stroke="#fff" stroke-width="3.6" stroke-linejoin="round" textLength="29" lengthAdjust="spacingAndGlyphs" font-family="Liberation Sans, Arial, sans-serif">C</text>
<text x="509.0" y="1468.4" font-size="28.5" font-weight="700" font-style="italic" fill="#D8302C" stroke="#D8302C" stroke-width="1.3" stroke-linejoin="round" textLength="29" lengthAdjust="spacingAndGlyphs" font-family="Liberation Sans, Arial, sans-serif">C</text>
<text x="536.0" y="1467.9" font-size="30" font-weight="700" font-style="italic" fill="#1C2A72" stroke="#fff" stroke-width="3.6" stroke-linejoin="round" textLength="77" lengthAdjust="spacingAndGlyphs" font-family="Liberation Sans, Arial, sans-serif">rest</text>
<text x="536.0" y="1467.9" font-size="30" font-weight="700" font-style="italic" fill="#1C2A72" stroke="#1C2A72" stroke-width="1.3" stroke-linejoin="round" textLength="77" lengthAdjust="spacingAndGlyphs" font-family="Liberation Sans, Arial, sans-serif">rest</text>
<g transform="translate(635.5,1456.3) skewX(-12)"><path d="M-4,-10 H4 V-4 H10 V4 H4 V10 H-4 V4 H-10 V-4 H-4 Z" fill="#fff" stroke="#2DAA58" stroke-width="1.6"/><path d="M-4,-10 H4 V-4" fill="none" stroke="#F2D22E" stroke-width="1.6"/><path d="M-10,-4 V4 H-4" fill="none" stroke="#D8302C" stroke-width="1.6"/><path d="M4,10 H-4" fill="none" stroke="#35A7E0" stroke-width="1.6"/><text x="0" y="1.3" font-size="3.6" font-weight="700" fill="#1D2C78" text-anchor="middle" font-family="Liberation Sans, Arial, sans-serif">PLUS</text></g>
<path d="M669.5,1441.7 C661.5,1444.7 662.5,1456.7 667.5,1459.7 C663.5,1462.7 667.5,1465.7 673.5,1463.7" fill="none" stroke="#8EC8EC" stroke-width="2.4"/>
<path d="M665.5,1448.7 C665.5,1444.7 671.5,1444.7 672.5,1446.7 C673.5,1444.7 679.5,1444.7 678.5,1449.7 C678.5,1453.7 676.5,1456.7 675.5,1459.7 L672.5,1454.7 L669.5,1459.7 C667.5,1456.7 665.5,1452.7 665.5,1448.7 Z" fill="#fff"/>
<path d="M673.5,1436.7 C677.5,1434.7 680.5,1436.7 681.5,1439.7" fill="none" stroke="#8EC8EC" stroke-width="1.6"/>
<text x="679.2" y="1459.3" font-size="21.4" font-weight="700" fill="#fff" textLength="47.7" lengthAdjust="spacingAndGlyphs" font-family="Liberation Sans, Arial, sans-serif">CAVITY</text>
<text x="680.2" y="1466.1000000000001" font-size="6" font-weight="700" fill="#fff" textLength="45.7" lengthAdjust="spacingAndGlyphs" font-family="Liberation Sans, Arial, sans-serif">PROTECTION</text>
<text x="678.5" y="1471.4" font-size="4.2" fill="#fff" fill-opacity="0.9" textLength="49" lengthAdjust="spacingAndGlyphs" font-family="Liberation Sans, Arial, sans-serif">WITH ACTIVE FLUORIDE</text>
<rect x="678.3" y="1476.3" width="48.1" height="6.3" rx="1.5" fill="#fff"/>
<text x="680.5" y="1481.0" font-size="4.2" font-weight="700" fill="#C0282A" textLength="32" lengthAdjust="spacingAndGlyphs" font-family="Liberation Sans, Arial, sans-serif">REGULAR PASTE</text>
<path d="M714.5,1480.2 q5,-3 10,-1 l-0.5,2 q-5,-1 -9,1 Z" fill="#9CCBEA"/>
<rect x="488.4" y="1373.5" width="245.10000000000002" height="52.200000000000045" fill="url(#cbRed)"/>
<path d="M488.4,1373.5 H618.3 Q662.3,1399.6 640.3,1425.7 H488.4 Z" fill="url(#cbBlue)"/>
<path d="M618.3,1373.5 Q662.3,1399.6 640.3,1425.7 L654.3,1425.7 Q676.3,1399.6 634.3,1373.5 Z" fill="url(#cbBrown)" fill-opacity="0.8"/>
<path d="M617.3,1373.5 Q661.3,1399.6 639.3,1425.7" fill="none" stroke="#fff" stroke-width="1.3" stroke-opacity="0.85"/>
<path d="M489.4,1368.9 H732.5 L733.5,1374.2 H488.4 Z" fill="#1D4B92"/>
<text x="506.4" y="1371.9" font-size="3.6" fill="#9FB8E0" fill-opacity="0.8" letter-spacing="0.6" font-family="Liberation Sans, Arial, sans-serif">A HEALTHIER MOUTH</text>
<ellipse cx="596.3" cy="1371.2" rx="3.2" ry="1.6" fill="#132F66"/>
<ellipse cx="606.3" cy="1371.2" rx="3.2" ry="1.6" fill="#132F66"/>
<ellipse cx="638.3" cy="1371.2" rx="3.2" ry="1.6" fill="#132F66"/>
<ellipse cx="648.3" cy="1371.2" rx="3.2" ry="1.6" fill="#132F66"/>
<ellipse cx="686.3" cy="1371.2" rx="3.2" ry="1.6" fill="#132F66"/>
<ellipse cx="712.3" cy="1371.2" rx="3.2" ry="1.6" fill="#132F66"/>
<path d="M650.3,1373.0 l2.5,-3.5 l2.5,3.5 Z" fill="#9CC8F0"/>
<rect x="714.3" y="1370.2" width="6" height="2" fill="#E8EEF8"/>
<g transform="translate(525.3,1398.5)"><ellipse rx="17" ry="14" fill="url(#spk)"/><path d="M0,0 L16.2,4.1" stroke="#fff" stroke-width="0.8" stroke-opacity="0.7"/><path d="M0,0 L7.9,12.4" stroke="#fff" stroke-width="0.8" stroke-opacity="0.7"/><path d="M0,0 L-5.0,13.4" stroke="#fff" stroke-width="0.8" stroke-opacity="0.7"/><path d="M0,0 L-15.0,6.5" stroke="#fff" stroke-width="0.8" stroke-opacity="0.7"/><path d="M0,0 L-16.2,-4.1" stroke="#fff" stroke-width="0.8" stroke-opacity="0.7"/><path d="M0,0 L-7.9,-12.4" stroke="#fff" stroke-width="0.8" stroke-opacity="0.7"/><path d="M0,0 L5.0,-13.4" stroke="#fff" stroke-width="0.8" stroke-opacity="0.7"/><path d="M0,0 L15.0,-6.5" stroke="#fff" stroke-width="0.8" stroke-opacity="0.7"/></g>
<text x="507.8" y="1409.2" font-size="28.5" font-weight="700" font-style="italic" fill="#D8302C" stroke="#fff" stroke-width="3.6" stroke-linejoin="round" textLength="29" lengthAdjust="spacingAndGlyphs" font-family="Liberation Sans, Arial, sans-serif">C</text>
<text x="507.8" y="1409.2" font-size="28.5" font-weight="700" font-style="italic" fill="#D8302C" stroke="#D8302C" stroke-width="1.3" stroke-linejoin="round" textLength="29" lengthAdjust="spacingAndGlyphs" font-family="Liberation Sans, Arial, sans-serif">C</text>
<text x="534.8" y="1408.7" font-size="30" font-weight="700" font-style="italic" fill="#1C2A72" stroke="#fff" stroke-width="3.6" stroke-linejoin="round" textLength="77" lengthAdjust="spacingAndGlyphs" font-family="Liberation Sans, Arial, sans-serif">rest</text>
<text x="534.8" y="1408.7" font-size="30" font-weight="700" font-style="italic" fill="#1C2A72" stroke="#1C2A72" stroke-width="1.3" stroke-linejoin="round" textLength="77" lengthAdjust="spacingAndGlyphs" font-family="Liberation Sans, Arial, sans-serif">rest</text>
<g transform="translate(634.3,1397.1) skewX(-12)"><path d="M-4,-10 H4 V-4 H10 V4 H4 V10 H-4 V4 H-10 V-4 H-4 Z" fill="#fff" stroke="#2DAA58" stroke-width="1.6"/><path d="M-4,-10 H4 V-4" fill="none" stroke="#F2D22E" stroke-width="1.6"/><path d="M-10,-4 V4 H-4" fill="none" stroke="#D8302C" stroke-width="1.6"/><path d="M4,10 H-4" fill="none" stroke="#35A7E0" stroke-width="1.6"/><text x="0" y="1.3" font-size="3.6" font-weight="700" fill="#1D2C78" text-anchor="middle" font-family="Liberation Sans, Arial, sans-serif">PLUS</text></g>
<path d="M668.3,1382.5 C660.3,1385.5 661.3,1397.5 666.3,1400.5 C662.3,1403.5 666.3,1406.5 672.3,1404.5" fill="none" stroke="#8EC8EC" stroke-width="2.4"/>
<path d="M664.3,1389.5 C664.3,1385.5 670.3,1385.5 671.3,1387.5 C672.3,1385.5 678.3,1385.5 677.3,1390.5 C677.3,1394.5 675.3,1397.5 674.3,1400.5 L671.3,1395.5 L668.3,1400.5 C666.3,1397.5 664.3,1393.5 664.3,1389.5 Z" fill="#fff"/>
<path d="M672.3,1377.5 C676.3,1375.5 679.3,1377.5 680.3,1380.5" fill="none" stroke="#8EC8EC" stroke-width="1.6"/>
<text x="678.0" y="1400.1" font-size="21.4" font-weight="700" fill="#fff" textLength="47.7" lengthAdjust="spacingAndGlyphs" font-family="Liberation Sans, Arial, sans-serif">CAVITY</text>
<text x="679.0" y="1406.9" font-size="6" font-weight="700" fill="#fff" textLength="45.7" lengthAdjust="spacingAndGlyphs" font-family="Liberation Sans, Arial, sans-serif">PROTECTION</text>
<text x="677.3" y="1412.2" font-size="4.2" fill="#fff" fill-opacity="0.9" textLength="49" lengthAdjust="spacingAndGlyphs" font-family="Liberation Sans, Arial, sans-serif">WITH ACTIVE FLUORIDE</text>
<rect x="677.0999999999999" y="1417.1" width="48.1" height="6.3" rx="1.5" fill="#fff"/>
<text x="679.3" y="1421.8" font-size="4.2" font-weight="700" fill="#C0282A" textLength="32" lengthAdjust="spacingAndGlyphs" font-family="Liberation Sans, Arial, sans-serif">REGULAR PASTE</text>
<path d="M713.3,1421.0 q5,-3 10,-1 l-0.5,2 q-5,-1 -9,1 Z" fill="#9CCBEA"/>
<rect x="488" y="1313.8" width="245" height="52.799999999999955" fill="url(#cbRed)"/>
<path d="M488,1313.8 H618 Q662,1340.1999999999998 640,1366.6 H488 Z" fill="url(#cbBlue)"/>
<path d="M618,1313.8 Q662,1340.1999999999998 640,1366.6 L654,1366.6 Q676,1340.1999999999998 634,1313.8 Z" fill="url(#cbBrown)" fill-opacity="0.8"/>
<path d="M617,1313.8 Q661,1340.1999999999998 639,1366.6" fill="none" stroke="#fff" stroke-width="1.3" stroke-opacity="0.85"/>
<path d="M489,1304.4 H732 L733,1314.5 H488 Z" fill="#1D4B92"/>
<text x="506" y="1312.2" font-size="3.6" fill="#9FB8E0" fill-opacity="0.8" letter-spacing="0.6" font-family="Liberation Sans, Arial, sans-serif">A HEALTHIER MOUTH</text>
<ellipse cx="596" cy="1311.5" rx="3.2" ry="1.6" fill="#132F66"/>
<ellipse cx="606" cy="1311.5" rx="3.2" ry="1.6" fill="#132F66"/>
<ellipse cx="638" cy="1311.5" rx="3.2" ry="1.6" fill="#132F66"/>
<ellipse cx="648" cy="1311.5" rx="3.2" ry="1.6" fill="#132F66"/>
<ellipse cx="686" cy="1311.5" rx="3.2" ry="1.6" fill="#132F66"/>
<ellipse cx="712" cy="1311.5" rx="3.2" ry="1.6" fill="#132F66"/>
<path d="M650,1313.3 l2.5,-3.5 l2.5,3.5 Z" fill="#9CC8F0"/>
<rect x="714" y="1310.5" width="6" height="2" fill="#E8EEF8"/>
<g transform="translate(525,1338.8)"><ellipse rx="17" ry="14" fill="url(#spk)"/><path d="M0,0 L16.2,4.1" stroke="#fff" stroke-width="0.8" stroke-opacity="0.7"/><path d="M0,0 L7.9,12.4" stroke="#fff" stroke-width="0.8" stroke-opacity="0.7"/><path d="M0,0 L-5.0,13.4" stroke="#fff" stroke-width="0.8" stroke-opacity="0.7"/><path d="M0,0 L-15.0,6.5" stroke="#fff" stroke-width="0.8" stroke-opacity="0.7"/><path d="M0,0 L-16.2,-4.1" stroke="#fff" stroke-width="0.8" stroke-opacity="0.7"/><path d="M0,0 L-7.9,-12.4" stroke="#fff" stroke-width="0.8" stroke-opacity="0.7"/><path d="M0,0 L5.0,-13.4" stroke="#fff" stroke-width="0.8" stroke-opacity="0.7"/><path d="M0,0 L15.0,-6.5" stroke="#fff" stroke-width="0.8" stroke-opacity="0.7"/></g>
<text x="507.5" y="1349.5" font-size="28.5" font-weight="700" font-style="italic" fill="#D8302C" stroke="#fff" stroke-width="3.6" stroke-linejoin="round" textLength="29" lengthAdjust="spacingAndGlyphs" font-family="Liberation Sans, Arial, sans-serif">C</text>
<text x="507.5" y="1349.5" font-size="28.5" font-weight="700" font-style="italic" fill="#D8302C" stroke="#D8302C" stroke-width="1.3" stroke-linejoin="round" textLength="29" lengthAdjust="spacingAndGlyphs" font-family="Liberation Sans, Arial, sans-serif">C</text>
<text x="534.5" y="1349.0" font-size="30" font-weight="700" font-style="italic" fill="#1C2A72" stroke="#fff" stroke-width="3.6" stroke-linejoin="round" textLength="77" lengthAdjust="spacingAndGlyphs" font-family="Liberation Sans, Arial, sans-serif">rest</text>
<text x="534.5" y="1349.0" font-size="30" font-weight="700" font-style="italic" fill="#1C2A72" stroke="#1C2A72" stroke-width="1.3" stroke-linejoin="round" textLength="77" lengthAdjust="spacingAndGlyphs" font-family="Liberation Sans, Arial, sans-serif">rest</text>
<g transform="translate(634,1337.3999999999999) skewX(-12)"><path d="M-4,-10 H4 V-4 H10 V4 H4 V10 H-4 V4 H-10 V-4 H-4 Z" fill="#fff" stroke="#2DAA58" stroke-width="1.6"/><path d="M-4,-10 H4 V-4" fill="none" stroke="#F2D22E" stroke-width="1.6"/><path d="M-10,-4 V4 H-4" fill="none" stroke="#D8302C" stroke-width="1.6"/><path d="M4,10 H-4" fill="none" stroke="#35A7E0" stroke-width="1.6"/><text x="0" y="1.3" font-size="3.6" font-weight="700" fill="#1D2C78" text-anchor="middle" font-family="Liberation Sans, Arial, sans-serif">PLUS</text></g>
<path d="M668,1322.8 C660,1325.8 661,1337.8 666,1340.8 C662,1343.8 666,1346.8 672,1344.8" fill="none" stroke="#8EC8EC" stroke-width="2.4"/>
<path d="M664,1329.8 C664,1325.8 670,1325.8 671,1327.8 C672,1325.8 678,1325.8 677,1330.8 C677,1334.8 675,1337.8 674,1340.8 L671,1335.8 L668,1340.8 C666,1337.8 664,1333.8 664,1329.8 Z" fill="#fff"/>
<path d="M672,1317.8 C676,1315.8 679,1317.8 680,1320.8" fill="none" stroke="#8EC8EC" stroke-width="1.6"/>
<text x="677.7" y="1340.3999999999999" font-size="21.4" font-weight="700" fill="#fff" textLength="47.7" lengthAdjust="spacingAndGlyphs" font-family="Liberation Sans, Arial, sans-serif">CAVITY</text>
<text x="678.7" y="1347.2" font-size="6" font-weight="700" fill="#fff" textLength="45.7" lengthAdjust="spacingAndGlyphs" font-family="Liberation Sans, Arial, sans-serif">PROTECTION</text>
<text x="677" y="1352.5" font-size="4.2" fill="#fff" fill-opacity="0.9" textLength="49" lengthAdjust="spacingAndGlyphs" font-family="Liberation Sans, Arial, sans-serif">WITH ACTIVE FLUORIDE</text>
<rect x="676.8" y="1357.3999999999999" width="48.1" height="6.3" rx="1.5" fill="#fff"/>
<text x="679" y="1362.1" font-size="4.2" font-weight="700" fill="#C0282A" textLength="32" lengthAdjust="spacingAndGlyphs" font-family="Liberation Sans, Arial, sans-serif">REGULAR PASTE</text>
<path d="M713,1361.3 q5,-3 10,-1 l-0.5,2 q-5,-1 -9,1 Z" fill="#9CCBEA"/>
<path d="M499,1283 L524,1281.5 L524,1303 L499,1302.5 Z" fill="url(#capG)"/>
<line x1="499.5" y1="1286" x2="523.5" y2="1285.7" stroke="#C9C9CE" stroke-width="0.6"/>
<line x1="499.5" y1="1289" x2="523.5" y2="1288.7" stroke="#C9C9CE" stroke-width="0.6"/>
<line x1="499.5" y1="1292" x2="523.5" y2="1291.7" stroke="#C9C9CE" stroke-width="0.6"/>
<line x1="499.5" y1="1295" x2="523.5" y2="1294.7" stroke="#C9C9CE" stroke-width="0.6"/>
<line x1="499.5" y1="1298" x2="523.5" y2="1297.7" stroke="#C9C9CE" stroke-width="0.6"/>
<path d="M526,1274.5 L701,1256.5 L701,1307.5 L526,1310.5 Z" fill="url(#tubeBlue)"/>
<path d="M616,1265.3 Q650,1285 632,1309 L701,1307.5 L701,1256.5 Z" fill="url(#tubeRed)"/>
<path d="M616,1265.3 Q650,1285 632,1309 L644,1308.8 Q662,1285 630,1263.8 Z" fill="url(#cbBrown)" fill-opacity="0.75"/>
<path d="M615.5,1265.4 Q649.5,1285 631.5,1309" fill="none" stroke="#fff" stroke-width="1.1" stroke-opacity="0.8"/>
<path d="M520.5,1275 Q517,1292 520.5,1311 L528,1310.5 Q524.5,1292 528,1274 Z" fill="#FAFAFA" stroke="#D0D0D4" stroke-width="0.5"/>
<path d="M701,1256.5 L723.5,1254.5 L723.5,1307.5 L701,1307.5 Z" fill="url(#crimpG)"/>
<g transform="rotate(-4.5 577 1287)"><ellipse cx="546" cy="1287" rx="14" ry="12" fill="url(#spk)"/><text x="540" y="1296.5" font-size="26" font-weight="700" font-style="italic" fill="#D8302C" stroke="#fff" stroke-width="3" stroke-linejoin="round" textLength="20" lengthAdjust="spacingAndGlyphs" font-family="Liberation Sans, Arial, sans-serif">C</text><text x="540" y="1296.5" font-size="26" font-weight="700" font-style="italic" fill="#D8302C" stroke="#D8302C" stroke-width="1" textLength="20" lengthAdjust="spacingAndGlyphs" font-family="Liberation Sans, Arial, sans-serif">C</text><text x="558" y="1296" font-size="26" font-weight="700" font-style="italic" fill="#22338A" stroke="#fff" stroke-width="3" stroke-linejoin="round" textLength="56" lengthAdjust="spacingAndGlyphs" font-family="Liberation Sans, Arial, sans-serif">rest</text><text x="558" y="1296" font-size="26" font-weight="700" font-style="italic" fill="#22338A" stroke="#22338A" stroke-width="1" textLength="56" lengthAdjust="spacingAndGlyphs" font-family="Liberation Sans, Arial, sans-serif">rest</text><g transform="translate(628,1283) skewX(-12)"><path d="M-3,-8 H3 V-3 H8 V3 H3 V8 H-3 V3 H-8 V-3 H-3 Z" fill="#fff" stroke="#2DAA58" stroke-width="1.3"/><path d="M-3,-8 H3 V-3" fill="none" stroke="#F2D22E" stroke-width="1.3"/><path d="M3,8 H-3" fill="none" stroke="#35A7E0" stroke-width="1.3"/></g><text x="656" y="1290.5" font-size="21" font-weight="700" fill="#fff" textLength="40" lengthAdjust="spacingAndGlyphs" font-family="Liberation Sans, Arial, sans-serif">CAVITY</text><text x="657" y="1297.3" font-size="5.8" font-weight="700" fill="#fff" textLength="39" lengthAdjust="spacingAndGlyphs" font-family="Liberation Sans, Arial, sans-serif">PROTECTION</text></g>
</g>
<g clip-path="url(#c2)">
<rect x="831.3" y="1262" width="161" height="223.5" fill="#FBFBFB" stroke="#EDEDED" stroke-width="0.8"/>
<rect x="845" y="1484.2" width="145" height="2.2" fill="#DADADA"/>
<rect x="837" y="1262" width="150" height="218.4" fill="url(#flG)"/>
<path d="M837,1262 H899 C880,1300 866,1340 872,1400 C876,1430 890,1450 905,1462 L837,1462 Z" fill="#A7C96E" fill-opacity="0.75"/>
<path d="M837,1330 C845,1370 850,1405 868,1430 L837,1430 Z" fill="#B2D070" fill-opacity="0.5"/>
<path d="M837,1458 H987 V1480.4 H837 Z" fill="#6CB06F"/>
<path d="M905,1462 C940,1440 965,1420 987,1395 V1460 Z" fill="#78B672" fill-opacity="0.8"/>
<rect x="837" y="1295" width="150" height="8" fill="#A6CF86" fill-opacity="0.45"/>
<line x1="837" y1="1303.2" x2="987" y2="1303.2" stroke="#7AAE6A" stroke-width="0.6"/>
<rect x="897.7" y="1271.4" width="28.2" height="6.5" rx="3.25" fill="#fff"/>
<path d="M908,1272 Q911.8,1265.8 915.6,1272 Z" fill="#fff"/>
<text x="842.2" y="1292.8" font-size="12.4" fill="#fff" textLength="139.4" lengthAdjust="spacingAndGlyphs" font-family="Liberation Sans, Arial, sans-serif">GLIDES <tspan font-weight="700">50%</tspan> EASIER</text>
<path d="M864,1307.2 H959 V1316 C959,1343 937,1360.6 911.5,1360.6 C886,1360.6 864,1343 864,1316 Z" fill="url(#obBlue)"/>
<rect x="877.5" y="1312" width="68.8" height="24" rx="12" fill="url(#obOval)" stroke="#fff" stroke-width="0.9"/>
<text x="911.5" y="1330.6" font-size="19" font-weight="700" font-style="italic" fill="#fff" text-anchor="middle" textLength="55.8" lengthAdjust="spacingAndGlyphs" font-family="Liberation Sans, Arial, sans-serif">Oral-B</text>
<ellipse cx="911.8" cy="1343" rx="16.4" ry="5.8" fill="#3A63A8" stroke="#E6F0FA" stroke-width="0.8"/>
<text x="911.8" y="1346.2" font-size="9" font-weight="700" font-style="italic" fill="#fff" text-anchor="middle" textLength="24" lengthAdjust="spacingAndGlyphs" font-family="Liberation Sans, Arial, sans-serif">Glide</text>
<path d="M897,1347.5 Q912,1352 929,1342" fill="none" stroke="#B5D6F2" stroke-width="0.9"/>
<text x="911.8" y="1353.4" font-size="2.6" fill="#D0DEF0" text-anchor="middle" letter-spacing="0.3" font-family="Liberation Sans, Arial, sans-serif">FLOSS PICKS</text>
<text x="851.5" y="1379.3" font-size="21.5" font-weight="700" fill="#fff" textLength="63" lengthAdjust="spacingAndGlyphs" letter-spacing="-1" font-family="Liberation Sans, Arial, sans-serif">Scope</text>
<circle cx="883.8" cy="1373.8" r="2.1" fill="#B8322E"/>
<rect x="894.8" y="1384" width="37.5" height="8.2" rx="4.1" fill="#1F3A78"/>
<text x="913.5" y="1390.7" font-size="6.6" font-weight="700" fill="#fff" text-anchor="middle" textLength="30" lengthAdjust="spacingAndGlyphs" font-family="Liberation Sans, Arial, sans-serif">OUTLAST</text>
<rect x="843" y="1444.7" width="142" height="17.9" rx="8.9" fill="#CFD3D1" fill-opacity="0.9"/>
<ellipse cx="848" cy="1453.6" rx="4.6" ry="8.2" fill="none" stroke="#9ED3B0" stroke-width="2"/>
<ellipse cx="857" cy="1453.6" rx="4.6" ry="8.2" fill="none" stroke="#9ED3B0" stroke-width="2"/>
<ellipse cx="866" cy="1453.6" rx="4.6" ry="8.2" fill="none" stroke="#9ED3B0" stroke-width="2"/>
<ellipse cx="875" cy="1453.6" rx="4.6" ry="8.2" fill="none" stroke="#9ED3B0" stroke-width="2"/>
<ellipse cx="884" cy="1453.6" rx="4.6" ry="8.2" fill="none" stroke="#9ED3B0" stroke-width="2"/>
<ellipse cx="893" cy="1453.6" rx="4.6" ry="8.2" fill="none" stroke="#9ED3B0" stroke-width="2"/>
<ellipse cx="902" cy="1453.6" rx="4.6" ry="8.2" fill="none" stroke="#9ED3B0" stroke-width="2"/>
<ellipse cx="911" cy="1453.6" rx="4.6" ry="8.2" fill="none" stroke="#9ED3B0" stroke-width="2"/>
<ellipse cx="920" cy="1453.6" rx="4.6" ry="8.2" fill="none" stroke="#9ED3B0" stroke-width="2"/>
<ellipse cx="929" cy="1453.6" rx="4.6" ry="8.2" fill="none" stroke="#9ED3B0" stroke-width="2"/>
<ellipse cx="938" cy="1453.6" rx="4.6" ry="8.2" fill="none" stroke="#9ED3B0" stroke-width="2"/>
<ellipse cx="947" cy="1453.6" rx="4.6" ry="8.2" fill="none" stroke="#9ED3B0" stroke-width="2"/>
<ellipse cx="956" cy="1453.6" rx="4.6" ry="8.2" fill="none" stroke="#9ED3B0" stroke-width="2"/>
<ellipse cx="965" cy="1453.6" rx="4.6" ry="8.2" fill="none" stroke="#9ED3B0" stroke-width="2"/>
<ellipse cx="974" cy="1453.6" rx="4.6" ry="8.2" fill="none" stroke="#9ED3B0" stroke-width="2"/>
<ellipse cx="983" cy="1453.6" rx="4.6" ry="8.2" fill="none" stroke="#9ED3B0" stroke-width="2"/>
<line x1="852" y1="1461" x2="859" y2="1446" stroke="#fff" stroke-width="0.6" stroke-opacity="0.8"/>
<line x1="864" y1="1461" x2="871" y2="1446" stroke="#fff" stroke-width="0.6" stroke-opacity="0.8"/>
<line x1="876" y1="1461" x2="883" y2="1446" stroke="#fff" stroke-width="0.6" stroke-opacity="0.8"/>
<line x1="888" y1="1461" x2="895" y2="1446" stroke="#fff" stroke-width="0.6" stroke-opacity="0.8"/>
<line x1="900" y1="1461" x2="907" y2="1446" stroke="#fff" stroke-width="0.6" stroke-opacity="0.8"/>
<line x1="912" y1="1461" x2="919" y2="1446" stroke="#fff" stroke-width="0.6" stroke-opacity="0.8"/>
<line x1="924" y1="1461" x2="931" y2="1446" stroke="#fff" stroke-width="0.6" stroke-opacity="0.8"/>
<line x1="936" y1="1461" x2="943" y2="1446" stroke="#fff" stroke-width="0.6" stroke-opacity="0.8"/>
<line x1="948" y1="1461" x2="955" y2="1446" stroke="#fff" stroke-width="0.6" stroke-opacity="0.8"/>
<line x1="960" y1="1461" x2="967" y2="1446" stroke="#fff" stroke-width="0.6" stroke-opacity="0.8"/>
<line x1="972" y1="1461" x2="979" y2="1446" stroke="#fff" stroke-width="0.6" stroke-opacity="0.8"/>
<line x1="984" y1="1461" x2="991" y2="1446" stroke="#fff" stroke-width="0.6" stroke-opacity="0.8"/>
<path d="M851.4,1423.2 C866,1420.5 882,1419.2 896,1418.6 C910,1418 922,1417 928,1414 C931,1412.5 933,1411 935,1410 L939,1429.8 C920,1430 905,1429.5 892,1428.8 C875,1428 862,1426.5 851.4,1423.2 Z" fill="#4FAA7A"/>
<path d="M936.8,1397 C933.5,1407 933,1418 940,1424.5 C944,1428 949,1428.6 955,1428.2" fill="none" stroke="#4FAA7A" stroke-width="5.4"/>
<path d="M938.5,1400 C936.5,1409 937,1417 942,1421.5" fill="none" stroke="#6CC092" stroke-width="1.2" stroke-opacity="0.7"/>
<circle cx="937.3" cy="1395.6" r="3.2" fill="#3E9A68"/>
<rect x="878" y="1421" width="24" height="6" rx="3" fill="none" stroke="#3E9465" stroke-width="0.6"/>
<line x1="906.0" y1="1418.6" x2="906.5" y2="1429" stroke="#3B9062" stroke-width="0.6"/>
<line x1="908.6" y1="1418.6" x2="909.1" y2="1429" stroke="#3B9062" stroke-width="0.6"/>
<line x1="911.2" y1="1418.6" x2="911.7" y2="1429" stroke="#3B9062" stroke-width="0.6"/>
<line x1="913.8" y1="1418.6" x2="914.3" y2="1429" stroke="#3B9062" stroke-width="0.6"/>
<line x1="916.4" y1="1418.6" x2="916.9" y2="1429" stroke="#3B9062" stroke-width="0.6"/>
<line x1="937.3" y1="1395.6" x2="990" y2="1411" stroke="#F4F4F4" stroke-width="0.7"/>
<ellipse cx="908.6" cy="1464.4" rx="33" ry="34.8" fill="url(#silv)"/>
<ellipse cx="908.6" cy="1464.4" rx="33" ry="34.8" fill="url(#silvS)"/>
<text x="910.5" y="1460.2" font-size="22.5" font-weight="700" fill="#1F2F73" text-anchor="middle" textLength="38.5" lengthAdjust="spacingAndGlyphs" font-family="Liberation Sans, Arial, sans-serif">225</text>
<text x="910.1" y="1472.9" font-size="11" font-weight="700" fill="#1F2F73" text-anchor="middle" textLength="35.6" lengthAdjust="spacingAndGlyphs" font-family="Liberation Sans, Arial, sans-serif">FLOSS</text>
<text x="910.1" y="1484.2" font-size="11" font-weight="700" fill="#1F2F73" text-anchor="middle" textLength="35.6" lengthAdjust="spacingAndGlyphs" font-family="Liberation Sans, Arial, sans-serif">PICKS</text>
<line x1="1020.6" y1="1344" x2="1020.6" y2="1398" stroke="#E4E6EE" stroke-width="0.9"/>
<path d="M1022,1344.8 H1008 C993,1344.8 984,1356 984,1371 C984,1386 993,1397.4 1008,1397.4 H1022" fill="none" stroke="#42A46E" stroke-width="10.5"/>
<path d="M1022,1341.5 H1008 C996,1341.5 988,1350 987.5,1362" fill="none" stroke="#5DB985" stroke-width="2.2" stroke-opacity="0.8"/>
<circle cx="1022.4" cy="1344.2" r="4.4" fill="#2F8F5A"/>
<circle cx="1022.4" cy="1397.9" r="4.4" fill="#2F8F5A"/>
<path d="M979.5,1374 C976,1386 968,1398 956,1410.9 L941.5,1438.9 C937,1460 935,1480 934.2,1502.2 C940,1492 946,1484 951.9,1473.1 L966.4,1433.7 L978.8,1415 C985,1409 990,1406 996.5,1404.7 L1004,1398 L992,1392 C987,1388 985,1382 984.5,1374 Z" fill="url(#pickG)"/>
<path d="M979.2,1376 C976,1388 968,1398 956,1410.9 L941.5,1438.9 C937,1460 935,1480 934.2,1502.2" fill="none" stroke="#2F8A57" stroke-width="0.8"/>
<line x1="961.0" y1="1400.0" x2="980.0" y2="1410.0" stroke="#2F8A57" stroke-width="0.8"/>
<line x1="959.6" y1="1402.9" x2="978.6" y2="1412.9" stroke="#2F8A57" stroke-width="0.8"/>
<line x1="958.2" y1="1405.8" x2="977.2" y2="1415.8" stroke="#2F8A57" stroke-width="0.8"/>
<line x1="956.9" y1="1408.6" x2="975.9" y2="1418.6" stroke="#2F8A57" stroke-width="0.8"/>
<line x1="955.5" y1="1411.5" x2="974.5" y2="1421.5" stroke="#2F8A57" stroke-width="0.8"/>
<line x1="954.1" y1="1414.4" x2="973.1" y2="1424.4" stroke="#2F8A57" stroke-width="0.8"/>
<ellipse cx="951.5" cy="1447" rx="4.6" ry="18.5" transform="rotate(24 951.5 1447)" fill="none" stroke="#2E8555" stroke-width="0.8"/>
</g>
<g clip-path="url(#c3)">
<path d="M1186.6,1311 C1192,1298 1197,1290 1200.5,1284.9 L1202.3,1281.4 L1227.5,1281.4 L1230.2,1284.9 C1234,1290 1238,1298 1242.4,1311 Z" fill="url(#dwClear)" stroke="#D4D6DE" stroke-width="0.7"/>
<path d="M1196,1311 C1200,1300 1203,1292 1206,1287 L1224,1287 C1227,1292 1230,1300 1234,1311 Z" fill="#EAEBEF"/>
<rect x="1202.3" y="1269.2" width="25.2" height="12.6" rx="1" fill="#EEEEF2" stroke="#D6D8DE" stroke-width="0.6"/>
<line x1="1202.3" y1="1280.5" x2="1227.5" y2="1280.5" stroke="#D0D2D8" stroke-width="0.8"/>
<rect x="1206.6" y="1258.7" width="15.8" height="11" rx="1.5" fill="#F2F2F5" stroke="#D8DAE0" stroke-width="0.6"/>
<rect x="1222.3" y="1261.5" width="6" height="8" rx="1" fill="#E8E9ED" stroke="#D8DAE0" stroke-width="0.5"/>
<path d="M1186.6,1311 L1242.4,1311 C1249,1326 1254,1340 1259,1363 C1262,1378 1264,1395 1264.1,1420 C1264.2,1450 1263,1470 1261.5,1484 C1260.5,1496 1258,1503.3 1250,1503.3 L1177,1503.3 C1169,1503.3 1167,1496 1166.2,1484 C1165,1470 1164.5,1450 1164.8,1420 C1165,1395 1166,1378 1169,1363 C1173,1340 1179,1326 1186.6,1311 Z" fill="url(#dwBody)"/>
<path d="M1186.6,1311 C1179,1326 1173,1340 1169,1363 C1166,1378 1165,1395 1164.8,1420 C1164.5,1450 1165,1470 1166.2,1484 C1167,1496 1169,1503.3 1177,1503.3 L1250,1503.3 C1258,1503.3 1260.5,1496 1261.5,1484 C1263,1470 1264.2,1450 1264.1,1420 C1264,1395 1262,1378 1259,1363 C1254,1340 1249,1326 1242.4,1311" fill="none" stroke="#1A1C60" stroke-width="6.5" clip-path="url(#dwClip)"/>
<path d="M1186.6,1311 C1179,1326 1173,1340 1169,1363 C1166,1378 1165,1395 1164.8,1420 C1164.5,1450 1165,1470 1166.2,1484 C1167,1496 1169,1503.3 1177,1503.3 L1250,1503.3 C1258,1503.3 1260.5,1496 1261.5,1484 C1263,1470 1264.2,1450 1264.1,1420 C1264,1395 1262,1378 1259,1363 C1254,1340 1249,1326 1242.4,1311" fill="none" stroke="#2A2A88" stroke-width="9" stroke-opacity="0.5" clip-path="url(#dwClip)"/>
<path d="M1178,1340 C1190,1330 1215,1325 1246,1330" fill="none" stroke="#6E6CCB" stroke-width="1.6" stroke-opacity="0.7"/>
<path d="M1183,1333 C1195,1325 1220,1322 1243,1326" fill="none" stroke="#2F2E92" stroke-width="1" stroke-opacity="0.7"/>
<path d="M1174,1352 C1190,1342 1225,1338 1252,1345" fill="none" stroke="#5C5AC0" stroke-width="2.2" stroke-opacity="0.7"/>
<path d="M1172,1372 C1174,1366 1182,1362 1190,1360 L1240,1352.6 C1247,1351.8 1250,1354 1251,1360 L1255.5,1432.5 L1171.5,1432.5 C1170.5,1410 1170.8,1390 1172,1372 Z" fill="url(#dwSilver)"/>
<path d="M1197,1377 C1197,1367 1206,1360.7 1216.5,1360.7 C1227,1360.7 1236.3,1367 1236.3,1377 Z" fill="url(#dwSun)"/>
<line x1="1216.5" y1="1377" x2="1200.3" y2="1372.4" stroke="#fff" stroke-width="0.5" stroke-opacity="0.6"/>
<line x1="1216.5" y1="1377" x2="1202.7" y2="1368.2" stroke="#fff" stroke-width="0.5" stroke-opacity="0.6"/>
<line x1="1216.5" y1="1377" x2="1206.5" y2="1364.9" stroke="#fff" stroke-width="0.5" stroke-opacity="0.6"/>
<line x1="1216.5" y1="1377" x2="1211.2" y2="1362.7" stroke="#fff" stroke-width="0.5" stroke-opacity="0.6"/>
<line x1="1216.5" y1="1377" x2="1216.5" y2="1362.0" stroke="#fff" stroke-width="0.5" stroke-opacity="0.6"/>
<line x1="1216.5" y1="1377" x2="1221.8" y2="1362.7" stroke="#fff" stroke-width="0.5" stroke-opacity="0.6"/>
<line x1="1216.5" y1="1377" x2="1226.5" y2="1364.9" stroke="#fff" stroke-width="0.5" stroke-opacity="0.6"/>
<line x1="1216.5" y1="1377" x2="1230.3" y2="1368.2" stroke="#fff" stroke-width="0.5" stroke-opacity="0.6"/>
<line x1="1216.5" y1="1377" x2="1232.7" y2="1372.4" stroke="#fff" stroke-width="0.5" stroke-opacity="0.6"/>
<text x="1216.6" y="1391.8" font-size="18.5" font-weight="700" fill="#1F2E7A" text-anchor="middle" stroke="#1F2E7A" stroke-width="0.9" textLength="49.7" lengthAdjust="spacingAndGlyphs" font-family="Liberation Sans, Arial, sans-serif">DAWN</text>
<text x="1216.5" y="1402.7" font-size="8.4" fill="#2A3A8A" text-anchor="middle" textLength="50.9" lengthAdjust="spacingAndGlyphs" letter-spacing="0.5" font-family="Liberation Sans, Arial, sans-serif">PLATINUM</text>
<text x="1192" y="1414.4" font-size="7.2" font-weight="700" fill="#1F2E7A" textLength="59.6" lengthAdjust="spacingAndGlyphs" font-family="Liberation Sans, Arial, sans-serif"><tspan font-size="3">LIFTS </tspan>REMOVE<tspan font-size="3"> UP TO </tspan>99%<tspan font-size="3"> OF</tspan></text>
<text x="1192" y="1419.8" font-size="4.8" font-weight="700" fill="#1F2E7A" textLength="59.6" lengthAdjust="spacingAndGlyphs" font-family="Liberation Sans, Arial, sans-serif">GREASE &amp; FOOD RESIDUE</text>
<path d="M1193.6,1432.5 L1255.5,1432.5 L1254.6,1462 C1254.5,1466 1252,1466.8 1248,1466.8 L1205,1466.8 C1198,1466.8 1193.6,1460 1193.6,1452 Z" fill="#3A72C8"/>
<text x="1201" y="1439.8" font-size="4.8" font-weight="700" fill="#fff" textLength="28" lengthAdjust="spacingAndGlyphs" font-family="Liberation Sans, Arial, sans-serif">FRESH RAIN</text>
<text x="1211" y="1442.8" font-size="2.2" fill="#fff" font-family="Liberation Sans, Arial, sans-serif">SCENT</text>
<path d="M1238.4,1431.8 C1240,1435 1243,1437.5 1243,1440.5 C1243,1443.3 1241,1445 1238.4,1445 C1235.8,1445 1233.8,1443.3 1233.8,1440.5 C1233.8,1437.5 1236.8,1435 1238.4,1431.8 Z" fill="url(#drop)"/>
<line x1="1195" y1="1447.2" x2="1251" y2="1447.2" stroke="#E3E04A" stroke-width="0.5"/>
<rect x="1199.5" y="1445.6" width="31" height="3.4" fill="#3A72C8"/>
<text x="1200" y="1448.6" font-size="3.4" font-weight="700" fill="#E9E24A" textLength="30" lengthAdjust="spacingAndGlyphs" font-family="Liberation Sans, Arial, sans-serif">TIME TO REFILL</text>
<text x="1211" y="1454.2" font-size="2.4" fill="#E0ECFA" textLength="30" lengthAdjust="spacingAndGlyphs" font-family="Liberation Sans, Arial, sans-serif">Ultra Concentrated</text>
<rect x="1202.3" y="1454.5" width="4.3" height="4.8" fill="#fff"/>
<rect x="1203.2" y="1455.4" width="2.5" height="3" fill="#5A7AB8"/>
<text x="1210" y="1461" font-size="3.4" fill="#E0ECFA" textLength="36" lengthAdjust="spacingAndGlyphs" font-family="Liberation Sans, Arial, sans-serif">907 mL (1.9 QT) 32.0 FL OZ</text>
<path d="M1166,1420 C1172,1445 1190,1466 1220,1470 C1238,1472 1252,1470 1262,1466 L1262,1476 C1240,1482 1205,1480 1185,1470 C1175,1463 1168,1450 1166,1440 Z" fill="#4A48B0"/>
<path d="M1168,1430 C1178,1458 1200,1472 1235,1474" fill="none" stroke="#6562C4" stroke-width="1.4" stroke-opacity="0.7"/>
<path d="M1170,1480 C1195,1486 1235,1486 1260,1480" fill="none" stroke="#3A389C" stroke-width="1" stroke-opacity="0.6"/>
<path d="M1176.5,1421 C1174,1430 1175,1440 1179,1447 C1183,1453 1190,1455 1195.5,1452.5 C1198,1446 1197.5,1438 1194,1431 C1191,1426 1189,1423 1189.5,1420 Z" fill="url(#duck)"/>
<path d="M1180,1430 C1183,1438 1188,1444 1194,1446" fill="none" stroke="#B8862A" stroke-width="0.8" stroke-opacity="0.7"/>
<circle cx="1183.2" cy="1414" r="7.6" fill="url(#duck)"/>
<path d="M1176,1411.5 C1180,1408.5 1186,1408 1190.5,1411" fill="none" stroke="#4A3814" stroke-width="1.3"/>
<path d="M1177,1415.8 C1180,1414.5 1184,1414.5 1188,1416" fill="none" stroke="#4A3814" stroke-width="0.8"/>
<path d="M1189,1415.8 L1196.8,1419.4 L1194.5,1421.5 L1188.5,1420.2 Z" fill="#2A2018"/>
<path d="M1189.5,1419.6 L1195.5,1420.6 L1191,1422.3 Z" fill="#C8502A"/>
</g>
</svg>
</body>
</html>
